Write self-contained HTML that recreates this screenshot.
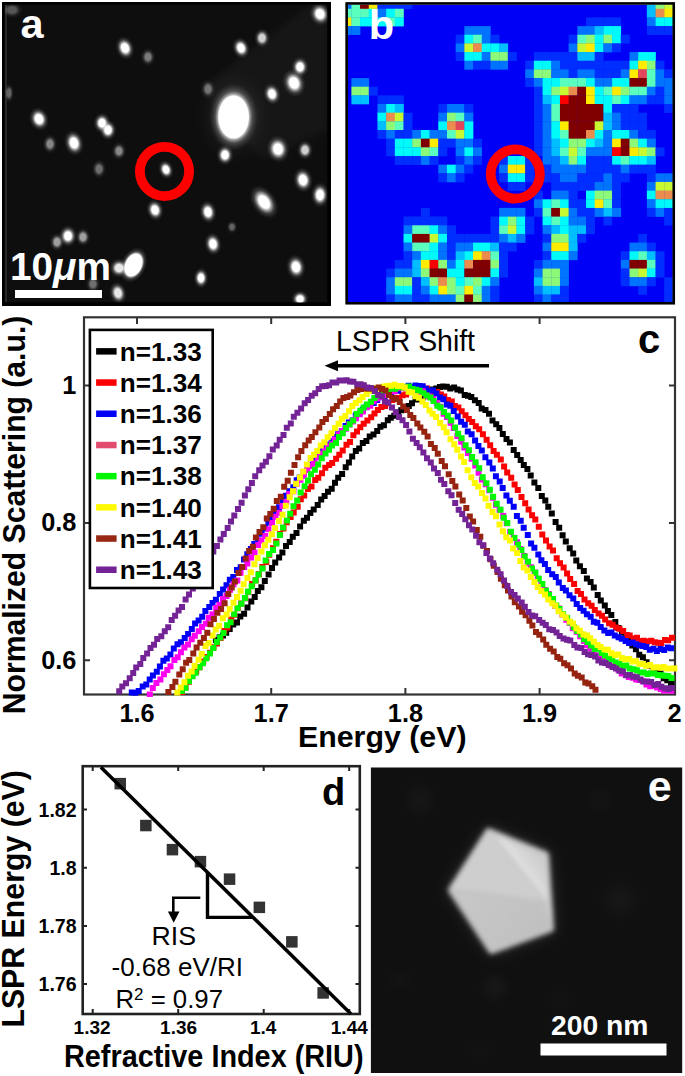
<!DOCTYPE html><html><head><meta charset="utf-8"><style>html,body{margin:0;padding:0;background:#fff;}body{width:685px;height:1076px;overflow:hidden;}svg{display:block;}text{font-family:"Liberation Sans",sans-serif;}</style></head><body>
<svg width="685" height="1076" viewBox="0 0 685 1076">
<defs>
<filter id="b1" x="-100%" y="-100%" width="300%" height="300%"><feGaussianBlur stdDeviation="1.3"/></filter>
<filter id="b4" x="-200%" y="-200%" width="500%" height="500%"><feGaussianBlur stdDeviation="4"/></filter>
<filter id="b8" x="-200%" y="-200%" width="500%" height="500%"><feGaussianBlur stdDeviation="8"/></filter>
<filter id="bp" x="-50%" y="-50%" width="200%" height="200%"><feGaussianBlur stdDeviation="2.6"/></filter>
<filter id="bs" x="-10%" y="-10%" width="120%" height="120%"><feGaussianBlur stdDeviation="0.45"/></filter>
<clipPath id="ca"><rect x="4.5" y="4.5" width="323" height="298"/></clipPath>
<clipPath id="cb"><rect x="347.9" y="4.7" width="324.9" height="297.4"/></clipPath>
<clipPath id="cc"><rect x="85" y="318" width="593" height="379"/></clipPath>
<clipPath id="ce"><rect x="370.9" y="767.5" width="311.3" height="305.5"/></clipPath>
<radialGradient id="sg"><stop offset="0" stop-color="#fff"/><stop offset="0.36" stop-color="#fff"/><stop offset="0.5" stop-color="#fff" stop-opacity="0.6"/><stop offset="0.68" stop-color="#fff" stop-opacity="0.2"/><stop offset="0.85" stop-color="#fff" stop-opacity="0.06"/><stop offset="1" stop-color="#fff" stop-opacity="0"/></radialGradient>
<radialGradient id="sg2"><stop offset="0" stop-color="#fff"/><stop offset="0.62" stop-color="#fff"/><stop offset="0.68" stop-color="#fff" stop-opacity="0.55"/><stop offset="0.78" stop-color="#fff" stop-opacity="0.18"/><stop offset="0.9" stop-color="#fff" stop-opacity="0.06"/><stop offset="1" stop-color="#fff" stop-opacity="0"/></radialGradient>
</defs>
<rect x="2" y="2" width="329" height="304" fill="#000"/>
<g clip-path="url(#ca)">
<rect x="4.5" y="4.5" width="323" height="298" fill="#0e0e0e"/>
<polygon points="200,89 311,4 329,4 329,130 262,160" fill="#fff" opacity="0.035" filter="url(#b4)"/>
<ellipse cx="234" cy="117" rx="40" ry="50" fill="url(#sg)" opacity="0.12"/>
<line x1="6" y1="5" x2="6" y2="302" stroke="#555" stroke-width="0.8"/>
<ellipse cx="125" cy="48" rx="9.28" ry="12.18" fill="url(#sg)" opacity="1.00" transform="rotate(-20 125 48)"/>
<ellipse cx="148" cy="57" rx="7.54" ry="9.28" fill="url(#sg)" opacity="0.45" />
<ellipse cx="9" cy="93" rx="5.22" ry="10.15" fill="url(#sg)" opacity="0.35" />
<ellipse cx="12" cy="10" rx="11.6" ry="8.7" fill="url(#sg)" opacity="0.30" />
<ellipse cx="39" cy="119" rx="9.86" ry="12.18" fill="url(#sg)" opacity="1.00" transform="rotate(-20 39 119)"/>
<ellipse cx="102" cy="123" rx="8.7" ry="10.44" fill="url(#sg)" opacity="1.00" />
<ellipse cx="108" cy="130" rx="8.7" ry="10.44" fill="url(#sg)" opacity="1.00" />
<ellipse cx="50" cy="144" rx="7.54" ry="9.86" fill="url(#sg)" opacity="0.50" />
<ellipse cx="74" cy="143" rx="9.86" ry="13.34" fill="url(#sg)" opacity="1.00" transform="rotate(-15 74 143)"/>
<ellipse cx="119" cy="151" rx="7.54" ry="9.28" fill="url(#sg)" opacity="0.50" />
<ellipse cx="320" cy="14" rx="10.44" ry="12.18" fill="url(#sg)" opacity="1.00" transform="rotate(-20 320 14)"/>
<ellipse cx="262" cy="38" rx="8.12" ry="9.86" fill="url(#sg)" opacity="0.80" />
<ellipse cx="241" cy="48" rx="8.7" ry="11.02" fill="url(#sg)" opacity="1.00" transform="rotate(-20 241 48)"/>
<ellipse cx="300" cy="67" rx="8.7" ry="10.44" fill="url(#sg)" opacity="1.00" />
<ellipse cx="294" cy="83" rx="11.6" ry="14.5" fill="url(#sg)" opacity="1.00" transform="rotate(-20 294 83)"/>
<ellipse cx="272" cy="94" rx="8.7" ry="11.02" fill="url(#sg)" opacity="1.00" transform="rotate(-15 272 94)"/>
<ellipse cx="208" cy="89" rx="7.54" ry="9.86" fill="url(#sg)" opacity="0.40" />
<ellipse cx="233.6" cy="117" rx="23.87" ry="33.6" fill="url(#sg2)" />
<ellipse cx="278" cy="149" rx="11.6" ry="13.92" fill="url(#sg)" opacity="1.00" transform="rotate(-10 278 149)"/>
<ellipse cx="305" cy="150" rx="8.12" ry="9.86" fill="url(#sg)" opacity="0.80" />
<ellipse cx="225" cy="155" rx="8.7" ry="10.44" fill="url(#sg)" opacity="1.00" />
<ellipse cx="99" cy="169" rx="7.54" ry="9.86" fill="url(#sg)" opacity="0.40" />
<ellipse cx="166" cy="169.6" rx="7.54" ry="9.86" fill="url(#sg)" opacity="1.00" transform="rotate(-20 166 169.6)"/>
<ellipse cx="155" cy="210" rx="8.7" ry="11.02" fill="url(#sg)" opacity="1.00" transform="rotate(-15 155 210)"/>
<ellipse cx="68" cy="236" rx="9.28" ry="11.02" fill="url(#sg)" opacity="1.00" />
<ellipse cx="57" cy="242" rx="7.54" ry="9.28" fill="url(#sg)" opacity="0.60" />
<ellipse cx="83" cy="237" rx="7.54" ry="9.28" fill="url(#sg)" opacity="0.60" />
<ellipse cx="133.5" cy="265" rx="12.71" ry="18.75" fill="url(#sg2)" transform="rotate(25 133.5 265)"/>
<ellipse cx="119" cy="268" rx="9.86" ry="9.86" fill="url(#sg)" opacity="0.90" />
<ellipse cx="118" cy="293" rx="8.7" ry="11.6" fill="url(#sg)" opacity="0.90" transform="rotate(-15 118 293)"/>
<ellipse cx="93" cy="284" rx="7.54" ry="9.28" fill="url(#sg)" opacity="0.40" />
<ellipse cx="303" cy="180" rx="9.86" ry="12.76" fill="url(#sg)" opacity="1.00" transform="rotate(-10 303 180)"/>
<ellipse cx="320" cy="195" rx="9.28" ry="12.76" fill="url(#sg)" opacity="1.00" />
<ellipse cx="264" cy="202" rx="12.18" ry="18.85" fill="url(#sg)" opacity="1.00" transform="rotate(-35 264 202)"/>
<ellipse cx="208" cy="212" rx="8.7" ry="11.6" fill="url(#sg)" opacity="1.00" transform="rotate(-10 208 212)"/>
<ellipse cx="232" cy="227" rx="5.8" ry="6.96" fill="url(#sg)" opacity="0.35" />
<ellipse cx="213" cy="244" rx="8.7" ry="11.6" fill="url(#sg)" opacity="1.00" transform="rotate(-10 213 244)"/>
<ellipse cx="296" cy="267" rx="9.86" ry="12.76" fill="url(#sg)" opacity="1.00" transform="rotate(-10 296 267)"/>
<ellipse cx="201" cy="278" rx="7.54" ry="10.44" fill="url(#sg)" opacity="1.00" />
<ellipse cx="300" cy="299" rx="8.7" ry="8.7" fill="url(#sg)" opacity="1.00" />
</g>
<circle cx="164.5" cy="171.5" r="24.6" fill="none" stroke="#f00" stroke-width="9.8"/>
<text x="20.5" y="37.8" font-size="41.5" font-weight="bold" fill="#fff">a</text>
<text x="10" y="280" font-size="38" fill="#fff" font-weight="bold" textLength="101" lengthAdjust="spacingAndGlyphs">10<tspan font-style="italic">μ</tspan>m</text>
<rect x="15" y="290" width="87" height="8" fill="#fff"/>
<g clip-path="url(#cb)"><g filter="url(#bs)">
<rect x="345" y="2" width="330" height="303" fill="rgb(0,0,246)"/>
<rect x="342.70" y="0.10" width="8.99" height="8.96" fill="rgb(0,115,255)"/>
<rect x="351.39" y="0.10" width="8.99" height="8.96" fill="rgb(90,255,190)"/>
<rect x="360.08" y="0.10" width="8.99" height="8.96" fill="rgb(128,0,0)"/>
<rect x="368.77" y="0.10" width="8.99" height="8.96" fill="rgb(255,235,0)"/>
<rect x="377.46" y="0.10" width="8.99" height="8.96" fill="rgb(0,45,255)"/>
<rect x="386.15" y="0.10" width="8.99" height="8.96" fill="rgb(0,45,255)"/>
<rect x="394.84" y="0.10" width="8.99" height="8.96" fill="rgb(0,45,255)"/>
<rect x="403.53" y="0.10" width="8.99" height="8.96" fill="rgb(0,45,255)"/>
<rect x="646.85" y="0.10" width="8.99" height="8.96" fill="rgb(0,190,255)"/>
<rect x="655.54" y="0.10" width="8.99" height="8.96" fill="rgb(140,250,120)"/>
<rect x="664.23" y="0.10" width="8.99" height="8.96" fill="rgb(200,250,50)"/>
<rect x="342.70" y="8.76" width="8.99" height="8.96" fill="rgb(90,255,190)"/>
<rect x="351.39" y="8.76" width="8.99" height="8.96" fill="rgb(90,255,190)"/>
<rect x="360.08" y="8.76" width="8.99" height="8.96" fill="rgb(90,255,190)"/>
<rect x="368.77" y="8.76" width="8.99" height="8.96" fill="rgb(0,250,250)"/>
<rect x="377.46" y="8.76" width="8.99" height="8.96" fill="rgb(0,115,255)"/>
<rect x="386.15" y="8.76" width="8.99" height="8.96" fill="rgb(0,250,250)"/>
<rect x="394.84" y="8.76" width="8.99" height="8.96" fill="rgb(90,255,190)"/>
<rect x="646.85" y="8.76" width="8.99" height="8.96" fill="rgb(0,190,255)"/>
<rect x="655.54" y="8.76" width="8.99" height="8.96" fill="rgb(235,140,80)"/>
<rect x="664.23" y="8.76" width="8.99" height="8.96" fill="rgb(255,235,0)"/>
<rect x="342.70" y="17.42" width="8.99" height="8.96" fill="rgb(255,235,0)"/>
<rect x="351.39" y="17.42" width="8.99" height="8.96" fill="rgb(90,255,190)"/>
<rect x="360.08" y="17.42" width="8.99" height="8.96" fill="rgb(0,250,250)"/>
<rect x="368.77" y="17.42" width="8.99" height="8.96" fill="rgb(0,250,250)"/>
<rect x="377.46" y="17.42" width="8.99" height="8.96" fill="rgb(0,250,250)"/>
<rect x="386.15" y="17.42" width="8.99" height="8.96" fill="rgb(90,255,190)"/>
<rect x="394.84" y="17.42" width="8.99" height="8.96" fill="rgb(0,250,250)"/>
<rect x="586.02" y="17.42" width="8.99" height="8.96" fill="rgb(0,45,255)"/>
<rect x="594.71" y="17.42" width="8.99" height="8.96" fill="rgb(0,45,255)"/>
<rect x="603.40" y="17.42" width="8.99" height="8.96" fill="rgb(0,45,255)"/>
<rect x="612.09" y="17.42" width="8.99" height="8.96" fill="rgb(0,45,255)"/>
<rect x="646.85" y="17.42" width="8.99" height="8.96" fill="rgb(0,115,255)"/>
<rect x="655.54" y="17.42" width="8.99" height="8.96" fill="rgb(0,250,250)"/>
<rect x="664.23" y="17.42" width="8.99" height="8.96" fill="rgb(0,250,250)"/>
<rect x="342.70" y="26.08" width="8.99" height="8.96" fill="rgb(0,115,255)"/>
<rect x="351.39" y="26.08" width="8.99" height="8.96" fill="rgb(0,115,255)"/>
<rect x="464.36" y="26.08" width="8.99" height="8.96" fill="rgb(0,115,255)"/>
<rect x="473.05" y="26.08" width="8.99" height="8.96" fill="rgb(0,115,255)"/>
<rect x="481.74" y="26.08" width="8.99" height="8.96" fill="rgb(0,115,255)"/>
<rect x="577.33" y="26.08" width="8.99" height="8.96" fill="rgb(0,115,255)"/>
<rect x="586.02" y="26.08" width="8.99" height="8.96" fill="rgb(0,115,255)"/>
<rect x="594.71" y="26.08" width="8.99" height="8.96" fill="rgb(0,190,255)"/>
<rect x="603.40" y="26.08" width="8.99" height="8.96" fill="rgb(0,250,250)"/>
<rect x="612.09" y="26.08" width="8.99" height="8.96" fill="rgb(0,250,250)"/>
<rect x="646.85" y="26.08" width="8.99" height="8.96" fill="rgb(0,45,255)"/>
<rect x="655.54" y="26.08" width="8.99" height="8.96" fill="rgb(0,45,255)"/>
<rect x="664.23" y="26.08" width="8.99" height="8.96" fill="rgb(0,45,255)"/>
<rect x="455.67" y="34.74" width="8.99" height="8.96" fill="rgb(0,45,255)"/>
<rect x="464.36" y="34.74" width="8.99" height="8.96" fill="rgb(0,250,250)"/>
<rect x="473.05" y="34.74" width="8.99" height="8.96" fill="rgb(90,255,190)"/>
<rect x="481.74" y="34.74" width="8.99" height="8.96" fill="rgb(0,115,255)"/>
<rect x="490.43" y="34.74" width="8.99" height="8.96" fill="rgb(0,45,255)"/>
<rect x="568.64" y="34.74" width="8.99" height="8.96" fill="rgb(0,45,255)"/>
<rect x="577.33" y="34.74" width="8.99" height="8.96" fill="rgb(90,255,190)"/>
<rect x="586.02" y="34.74" width="8.99" height="8.96" fill="rgb(140,250,120)"/>
<rect x="594.71" y="34.74" width="8.99" height="8.96" fill="rgb(0,250,250)"/>
<rect x="603.40" y="34.74" width="8.99" height="8.96" fill="rgb(140,250,120)"/>
<rect x="612.09" y="34.74" width="8.99" height="8.96" fill="rgb(0,250,250)"/>
<rect x="620.78" y="34.74" width="8.99" height="8.96" fill="rgb(0,45,255)"/>
<rect x="455.67" y="43.40" width="8.99" height="8.96" fill="rgb(0,115,255)"/>
<rect x="464.36" y="43.40" width="8.99" height="8.96" fill="rgb(200,250,50)"/>
<rect x="473.05" y="43.40" width="8.99" height="8.96" fill="rgb(235,140,80)"/>
<rect x="481.74" y="43.40" width="8.99" height="8.96" fill="rgb(0,250,250)"/>
<rect x="490.43" y="43.40" width="8.99" height="8.96" fill="rgb(0,250,250)"/>
<rect x="499.12" y="43.40" width="8.99" height="8.96" fill="rgb(0,190,255)"/>
<rect x="568.64" y="43.40" width="8.99" height="8.96" fill="rgb(0,115,255)"/>
<rect x="577.33" y="43.40" width="8.99" height="8.96" fill="rgb(200,250,50)"/>
<rect x="586.02" y="43.40" width="8.99" height="8.96" fill="rgb(255,235,0)"/>
<rect x="594.71" y="43.40" width="8.99" height="8.96" fill="rgb(0,250,250)"/>
<rect x="603.40" y="43.40" width="8.99" height="8.96" fill="rgb(0,115,255)"/>
<rect x="612.09" y="43.40" width="8.99" height="8.96" fill="rgb(0,45,255)"/>
<rect x="455.67" y="52.06" width="8.99" height="8.96" fill="rgb(0,45,255)"/>
<rect x="464.36" y="52.06" width="8.99" height="8.96" fill="rgb(0,250,250)"/>
<rect x="473.05" y="52.06" width="8.99" height="8.96" fill="rgb(0,250,250)"/>
<rect x="481.74" y="52.06" width="8.99" height="8.96" fill="rgb(0,115,255)"/>
<rect x="490.43" y="52.06" width="8.99" height="8.96" fill="rgb(140,250,120)"/>
<rect x="499.12" y="52.06" width="8.99" height="8.96" fill="rgb(140,250,120)"/>
<rect x="507.81" y="52.06" width="8.99" height="8.96" fill="rgb(0,45,255)"/>
<rect x="533.88" y="52.06" width="8.99" height="8.96" fill="rgb(0,45,255)"/>
<rect x="542.57" y="52.06" width="8.99" height="8.96" fill="rgb(0,45,255)"/>
<rect x="551.26" y="52.06" width="8.99" height="8.96" fill="rgb(0,45,255)"/>
<rect x="559.95" y="52.06" width="8.99" height="8.96" fill="rgb(0,45,255)"/>
<rect x="568.64" y="52.06" width="8.99" height="8.96" fill="rgb(0,45,255)"/>
<rect x="577.33" y="52.06" width="8.99" height="8.96" fill="rgb(0,190,255)"/>
<rect x="586.02" y="52.06" width="8.99" height="8.96" fill="rgb(0,190,255)"/>
<rect x="594.71" y="52.06" width="8.99" height="8.96" fill="rgb(0,45,255)"/>
<rect x="629.47" y="52.06" width="8.99" height="8.96" fill="rgb(0,115,255)"/>
<rect x="638.16" y="52.06" width="8.99" height="8.96" fill="rgb(0,250,250)"/>
<rect x="646.85" y="52.06" width="8.99" height="8.96" fill="rgb(0,250,250)"/>
<rect x="464.36" y="60.72" width="8.99" height="8.96" fill="rgb(0,115,255)"/>
<rect x="473.05" y="60.72" width="8.99" height="8.96" fill="rgb(0,45,255)"/>
<rect x="481.74" y="60.72" width="8.99" height="8.96" fill="rgb(0,45,255)"/>
<rect x="490.43" y="60.72" width="8.99" height="8.96" fill="rgb(0,115,255)"/>
<rect x="499.12" y="60.72" width="8.99" height="8.96" fill="rgb(0,115,255)"/>
<rect x="525.19" y="60.72" width="8.99" height="8.96" fill="rgb(0,45,255)"/>
<rect x="533.88" y="60.72" width="8.99" height="8.96" fill="rgb(0,250,250)"/>
<rect x="542.57" y="60.72" width="8.99" height="8.96" fill="rgb(0,250,250)"/>
<rect x="551.26" y="60.72" width="8.99" height="8.96" fill="rgb(0,115,255)"/>
<rect x="559.95" y="60.72" width="8.99" height="8.96" fill="rgb(0,45,255)"/>
<rect x="568.64" y="60.72" width="8.99" height="8.96" fill="rgb(0,45,255)"/>
<rect x="577.33" y="60.72" width="8.99" height="8.96" fill="rgb(0,45,255)"/>
<rect x="586.02" y="60.72" width="8.99" height="8.96" fill="rgb(0,45,255)"/>
<rect x="594.71" y="60.72" width="8.99" height="8.96" fill="rgb(0,45,255)"/>
<rect x="603.40" y="60.72" width="8.99" height="8.96" fill="rgb(0,45,255)"/>
<rect x="612.09" y="60.72" width="8.99" height="8.96" fill="rgb(0,45,255)"/>
<rect x="620.78" y="60.72" width="8.99" height="8.96" fill="rgb(0,45,255)"/>
<rect x="629.47" y="60.72" width="8.99" height="8.96" fill="rgb(0,250,250)"/>
<rect x="638.16" y="60.72" width="8.99" height="8.96" fill="rgb(255,235,0)"/>
<rect x="646.85" y="60.72" width="8.99" height="8.96" fill="rgb(140,250,120)"/>
<rect x="655.54" y="60.72" width="8.99" height="8.96" fill="rgb(0,45,255)"/>
<rect x="525.19" y="69.38" width="8.99" height="8.96" fill="rgb(0,115,255)"/>
<rect x="533.88" y="69.38" width="8.99" height="8.96" fill="rgb(140,250,120)"/>
<rect x="542.57" y="69.38" width="8.99" height="8.96" fill="rgb(140,250,120)"/>
<rect x="551.26" y="69.38" width="8.99" height="8.96" fill="rgb(0,115,255)"/>
<rect x="559.95" y="69.38" width="8.99" height="8.96" fill="rgb(0,115,255)"/>
<rect x="568.64" y="69.38" width="8.99" height="8.96" fill="rgb(0,45,255)"/>
<rect x="577.33" y="69.38" width="8.99" height="8.96" fill="rgb(0,115,255)"/>
<rect x="586.02" y="69.38" width="8.99" height="8.96" fill="rgb(0,115,255)"/>
<rect x="594.71" y="69.38" width="8.99" height="8.96" fill="rgb(0,45,255)"/>
<rect x="603.40" y="69.38" width="8.99" height="8.96" fill="rgb(0,45,255)"/>
<rect x="612.09" y="69.38" width="8.99" height="8.96" fill="rgb(0,45,255)"/>
<rect x="620.78" y="69.38" width="8.99" height="8.96" fill="rgb(0,115,255)"/>
<rect x="629.47" y="69.38" width="8.99" height="8.96" fill="rgb(255,235,0)"/>
<rect x="638.16" y="69.38" width="8.99" height="8.96" fill="rgb(225,70,90)"/>
<rect x="646.85" y="69.38" width="8.99" height="8.96" fill="rgb(90,255,190)"/>
<rect x="655.54" y="69.38" width="8.99" height="8.96" fill="rgb(0,115,255)"/>
<rect x="664.23" y="69.38" width="8.99" height="8.96" fill="rgb(0,45,255)"/>
<rect x="351.39" y="78.04" width="8.99" height="8.96" fill="rgb(0,115,255)"/>
<rect x="360.08" y="78.04" width="8.99" height="8.96" fill="rgb(0,115,255)"/>
<rect x="525.19" y="78.04" width="8.99" height="8.96" fill="rgb(0,45,255)"/>
<rect x="533.88" y="78.04" width="8.99" height="8.96" fill="rgb(0,115,255)"/>
<rect x="542.57" y="78.04" width="8.99" height="8.96" fill="rgb(0,250,250)"/>
<rect x="551.26" y="78.04" width="8.99" height="8.96" fill="rgb(0,250,250)"/>
<rect x="559.95" y="78.04" width="8.99" height="8.96" fill="rgb(90,255,190)"/>
<rect x="568.64" y="78.04" width="8.99" height="8.96" fill="rgb(90,255,190)"/>
<rect x="577.33" y="78.04" width="8.99" height="8.96" fill="rgb(90,255,190)"/>
<rect x="586.02" y="78.04" width="8.99" height="8.96" fill="rgb(0,250,250)"/>
<rect x="594.71" y="78.04" width="8.99" height="8.96" fill="rgb(0,115,255)"/>
<rect x="603.40" y="78.04" width="8.99" height="8.96" fill="rgb(0,115,255)"/>
<rect x="612.09" y="78.04" width="8.99" height="8.96" fill="rgb(0,250,250)"/>
<rect x="620.78" y="78.04" width="8.99" height="8.96" fill="rgb(0,250,250)"/>
<rect x="629.47" y="78.04" width="8.99" height="8.96" fill="rgb(128,0,0)"/>
<rect x="638.16" y="78.04" width="8.99" height="8.96" fill="rgb(128,0,0)"/>
<rect x="646.85" y="78.04" width="8.99" height="8.96" fill="rgb(90,255,190)"/>
<rect x="655.54" y="78.04" width="8.99" height="8.96" fill="rgb(0,115,255)"/>
<rect x="664.23" y="78.04" width="8.99" height="8.96" fill="rgb(0,115,255)"/>
<rect x="351.39" y="86.70" width="8.99" height="8.96" fill="rgb(140,250,120)"/>
<rect x="360.08" y="86.70" width="8.99" height="8.96" fill="rgb(140,250,120)"/>
<rect x="368.77" y="86.70" width="8.99" height="8.96" fill="rgb(0,45,255)"/>
<rect x="533.88" y="86.70" width="8.99" height="8.96" fill="rgb(0,45,255)"/>
<rect x="542.57" y="86.70" width="8.99" height="8.96" fill="rgb(0,250,250)"/>
<rect x="551.26" y="86.70" width="8.99" height="8.96" fill="rgb(140,250,120)"/>
<rect x="559.95" y="86.70" width="8.99" height="8.96" fill="rgb(200,250,50)"/>
<rect x="568.64" y="86.70" width="8.99" height="8.96" fill="rgb(235,140,80)"/>
<rect x="577.33" y="86.70" width="8.99" height="8.96" fill="rgb(128,0,0)"/>
<rect x="586.02" y="86.70" width="8.99" height="8.96" fill="rgb(255,235,0)"/>
<rect x="594.71" y="86.70" width="8.99" height="8.96" fill="rgb(0,250,250)"/>
<rect x="603.40" y="86.70" width="8.99" height="8.96" fill="rgb(90,255,190)"/>
<rect x="612.09" y="86.70" width="8.99" height="8.96" fill="rgb(255,235,0)"/>
<rect x="620.78" y="86.70" width="8.99" height="8.96" fill="rgb(140,250,120)"/>
<rect x="629.47" y="86.70" width="8.99" height="8.96" fill="rgb(90,255,190)"/>
<rect x="638.16" y="86.70" width="8.99" height="8.96" fill="rgb(90,255,190)"/>
<rect x="646.85" y="86.70" width="8.99" height="8.96" fill="rgb(0,115,255)"/>
<rect x="655.54" y="86.70" width="8.99" height="8.96" fill="rgb(0,45,255)"/>
<rect x="664.23" y="86.70" width="8.99" height="8.96" fill="rgb(0,115,255)"/>
<rect x="351.39" y="95.36" width="8.99" height="8.96" fill="rgb(0,190,255)"/>
<rect x="360.08" y="95.36" width="8.99" height="8.96" fill="rgb(0,190,255)"/>
<rect x="377.46" y="95.36" width="8.99" height="8.96" fill="rgb(0,45,255)"/>
<rect x="386.15" y="95.36" width="8.99" height="8.96" fill="rgb(0,45,255)"/>
<rect x="394.84" y="95.36" width="8.99" height="8.96" fill="rgb(0,45,255)"/>
<rect x="533.88" y="95.36" width="8.99" height="8.96" fill="rgb(0,45,255)"/>
<rect x="542.57" y="95.36" width="8.99" height="8.96" fill="rgb(0,190,255)"/>
<rect x="551.26" y="95.36" width="8.99" height="8.96" fill="rgb(0,250,250)"/>
<rect x="559.95" y="95.36" width="8.99" height="8.96" fill="rgb(250,0,0)"/>
<rect x="568.64" y="95.36" width="8.99" height="8.96" fill="rgb(128,0,0)"/>
<rect x="577.33" y="95.36" width="8.99" height="8.96" fill="rgb(128,0,0)"/>
<rect x="586.02" y="95.36" width="8.99" height="8.96" fill="rgb(255,235,0)"/>
<rect x="594.71" y="95.36" width="8.99" height="8.96" fill="rgb(0,250,250)"/>
<rect x="603.40" y="95.36" width="8.99" height="8.96" fill="rgb(0,250,250)"/>
<rect x="612.09" y="95.36" width="8.99" height="8.96" fill="rgb(90,255,190)"/>
<rect x="620.78" y="95.36" width="8.99" height="8.96" fill="rgb(0,250,250)"/>
<rect x="629.47" y="95.36" width="8.99" height="8.96" fill="rgb(0,115,255)"/>
<rect x="638.16" y="95.36" width="8.99" height="8.96" fill="rgb(0,115,255)"/>
<rect x="646.85" y="95.36" width="8.99" height="8.96" fill="rgb(0,45,255)"/>
<rect x="655.54" y="95.36" width="8.99" height="8.96" fill="rgb(0,45,255)"/>
<rect x="664.23" y="95.36" width="8.99" height="8.96" fill="rgb(0,115,255)"/>
<rect x="377.46" y="104.02" width="8.99" height="8.96" fill="rgb(0,115,255)"/>
<rect x="386.15" y="104.02" width="8.99" height="8.96" fill="rgb(0,250,250)"/>
<rect x="394.84" y="104.02" width="8.99" height="8.96" fill="rgb(0,190,255)"/>
<rect x="438.29" y="104.02" width="8.99" height="8.96" fill="rgb(0,45,255)"/>
<rect x="446.98" y="104.02" width="8.99" height="8.96" fill="rgb(0,115,255)"/>
<rect x="455.67" y="104.02" width="8.99" height="8.96" fill="rgb(0,115,255)"/>
<rect x="464.36" y="104.02" width="8.99" height="8.96" fill="rgb(0,45,255)"/>
<rect x="533.88" y="104.02" width="8.99" height="8.96" fill="rgb(0,45,255)"/>
<rect x="542.57" y="104.02" width="8.99" height="8.96" fill="rgb(0,115,255)"/>
<rect x="551.26" y="104.02" width="8.99" height="8.96" fill="rgb(90,255,190)"/>
<rect x="559.95" y="104.02" width="8.99" height="8.96" fill="rgb(128,0,0)"/>
<rect x="568.64" y="104.02" width="8.99" height="8.96" fill="rgb(128,0,0)"/>
<rect x="577.33" y="104.02" width="8.99" height="8.96" fill="rgb(128,0,0)"/>
<rect x="586.02" y="104.02" width="8.99" height="8.96" fill="rgb(128,0,0)"/>
<rect x="594.71" y="104.02" width="8.99" height="8.96" fill="rgb(128,0,0)"/>
<rect x="603.40" y="104.02" width="8.99" height="8.96" fill="rgb(0,250,250)"/>
<rect x="612.09" y="104.02" width="8.99" height="8.96" fill="rgb(0,45,255)"/>
<rect x="620.78" y="104.02" width="8.99" height="8.96" fill="rgb(0,45,255)"/>
<rect x="629.47" y="104.02" width="8.99" height="8.96" fill="rgb(0,45,255)"/>
<rect x="664.23" y="104.02" width="8.99" height="8.96" fill="rgb(0,45,255)"/>
<rect x="377.46" y="112.68" width="8.99" height="8.96" fill="rgb(0,250,250)"/>
<rect x="386.15" y="112.68" width="8.99" height="8.96" fill="rgb(235,140,80)"/>
<rect x="394.84" y="112.68" width="8.99" height="8.96" fill="rgb(200,250,50)"/>
<rect x="403.53" y="112.68" width="8.99" height="8.96" fill="rgb(0,45,255)"/>
<rect x="438.29" y="112.68" width="8.99" height="8.96" fill="rgb(0,115,255)"/>
<rect x="446.98" y="112.68" width="8.99" height="8.96" fill="rgb(140,250,120)"/>
<rect x="455.67" y="112.68" width="8.99" height="8.96" fill="rgb(90,255,190)"/>
<rect x="464.36" y="112.68" width="8.99" height="8.96" fill="rgb(0,115,255)"/>
<rect x="533.88" y="112.68" width="8.99" height="8.96" fill="rgb(0,45,255)"/>
<rect x="542.57" y="112.68" width="8.99" height="8.96" fill="rgb(0,115,255)"/>
<rect x="551.26" y="112.68" width="8.99" height="8.96" fill="rgb(90,255,190)"/>
<rect x="559.95" y="112.68" width="8.99" height="8.96" fill="rgb(128,0,0)"/>
<rect x="568.64" y="112.68" width="8.99" height="8.96" fill="rgb(128,0,0)"/>
<rect x="577.33" y="112.68" width="8.99" height="8.96" fill="rgb(128,0,0)"/>
<rect x="586.02" y="112.68" width="8.99" height="8.96" fill="rgb(128,0,0)"/>
<rect x="594.71" y="112.68" width="8.99" height="8.96" fill="rgb(128,0,0)"/>
<rect x="603.40" y="112.68" width="8.99" height="8.96" fill="rgb(0,190,255)"/>
<rect x="612.09" y="112.68" width="8.99" height="8.96" fill="rgb(0,115,255)"/>
<rect x="620.78" y="112.68" width="8.99" height="8.96" fill="rgb(0,45,255)"/>
<rect x="629.47" y="112.68" width="8.99" height="8.96" fill="rgb(0,45,255)"/>
<rect x="638.16" y="112.68" width="8.99" height="8.96" fill="rgb(0,45,255)"/>
<rect x="377.46" y="121.34" width="8.99" height="8.96" fill="rgb(0,190,255)"/>
<rect x="386.15" y="121.34" width="8.99" height="8.96" fill="rgb(140,250,120)"/>
<rect x="394.84" y="121.34" width="8.99" height="8.96" fill="rgb(90,255,190)"/>
<rect x="403.53" y="121.34" width="8.99" height="8.96" fill="rgb(0,45,255)"/>
<rect x="438.29" y="121.34" width="8.99" height="8.96" fill="rgb(0,250,250)"/>
<rect x="446.98" y="121.34" width="8.99" height="8.96" fill="rgb(235,140,80)"/>
<rect x="455.67" y="121.34" width="8.99" height="8.96" fill="rgb(225,70,90)"/>
<rect x="464.36" y="121.34" width="8.99" height="8.96" fill="rgb(0,250,250)"/>
<rect x="533.88" y="121.34" width="8.99" height="8.96" fill="rgb(0,45,255)"/>
<rect x="542.57" y="121.34" width="8.99" height="8.96" fill="rgb(0,115,255)"/>
<rect x="551.26" y="121.34" width="8.99" height="8.96" fill="rgb(0,250,250)"/>
<rect x="559.95" y="121.34" width="8.99" height="8.96" fill="rgb(255,235,0)"/>
<rect x="568.64" y="121.34" width="8.99" height="8.96" fill="rgb(128,0,0)"/>
<rect x="577.33" y="121.34" width="8.99" height="8.96" fill="rgb(128,0,0)"/>
<rect x="586.02" y="121.34" width="8.99" height="8.96" fill="rgb(128,0,0)"/>
<rect x="594.71" y="121.34" width="8.99" height="8.96" fill="rgb(200,250,50)"/>
<rect x="603.40" y="121.34" width="8.99" height="8.96" fill="rgb(0,190,255)"/>
<rect x="612.09" y="121.34" width="8.99" height="8.96" fill="rgb(0,115,255)"/>
<rect x="620.78" y="121.34" width="8.99" height="8.96" fill="rgb(0,45,255)"/>
<rect x="629.47" y="121.34" width="8.99" height="8.96" fill="rgb(0,45,255)"/>
<rect x="638.16" y="121.34" width="8.99" height="8.96" fill="rgb(0,45,255)"/>
<rect x="377.46" y="130.00" width="8.99" height="8.96" fill="rgb(0,45,255)"/>
<rect x="386.15" y="130.00" width="8.99" height="8.96" fill="rgb(0,115,255)"/>
<rect x="394.84" y="130.00" width="8.99" height="8.96" fill="rgb(0,45,255)"/>
<rect x="403.53" y="130.00" width="8.99" height="8.96" fill="rgb(0,45,255)"/>
<rect x="412.22" y="130.00" width="8.99" height="8.96" fill="rgb(0,115,255)"/>
<rect x="420.91" y="130.00" width="8.99" height="8.96" fill="rgb(0,250,250)"/>
<rect x="429.60" y="130.00" width="8.99" height="8.96" fill="rgb(0,115,255)"/>
<rect x="438.29" y="130.00" width="8.99" height="8.96" fill="rgb(0,115,255)"/>
<rect x="446.98" y="130.00" width="8.99" height="8.96" fill="rgb(90,255,190)"/>
<rect x="455.67" y="130.00" width="8.99" height="8.96" fill="rgb(200,250,50)"/>
<rect x="464.36" y="130.00" width="8.99" height="8.96" fill="rgb(0,250,250)"/>
<rect x="533.88" y="130.00" width="8.99" height="8.96" fill="rgb(0,45,255)"/>
<rect x="542.57" y="130.00" width="8.99" height="8.96" fill="rgb(0,115,255)"/>
<rect x="551.26" y="130.00" width="8.99" height="8.96" fill="rgb(0,250,250)"/>
<rect x="559.95" y="130.00" width="8.99" height="8.96" fill="rgb(90,255,190)"/>
<rect x="568.64" y="130.00" width="8.99" height="8.96" fill="rgb(128,0,0)"/>
<rect x="577.33" y="130.00" width="8.99" height="8.96" fill="rgb(128,0,0)"/>
<rect x="586.02" y="130.00" width="8.99" height="8.96" fill="rgb(235,140,80)"/>
<rect x="594.71" y="130.00" width="8.99" height="8.96" fill="rgb(0,250,250)"/>
<rect x="603.40" y="130.00" width="8.99" height="8.96" fill="rgb(0,115,255)"/>
<rect x="612.09" y="130.00" width="8.99" height="8.96" fill="rgb(0,250,250)"/>
<rect x="620.78" y="130.00" width="8.99" height="8.96" fill="rgb(0,250,250)"/>
<rect x="629.47" y="130.00" width="8.99" height="8.96" fill="rgb(0,115,255)"/>
<rect x="638.16" y="130.00" width="8.99" height="8.96" fill="rgb(0,45,255)"/>
<rect x="646.85" y="130.00" width="8.99" height="8.96" fill="rgb(0,45,255)"/>
<rect x="386.15" y="138.66" width="8.99" height="8.96" fill="rgb(0,45,255)"/>
<rect x="394.84" y="138.66" width="8.99" height="8.96" fill="rgb(0,250,250)"/>
<rect x="403.53" y="138.66" width="8.99" height="8.96" fill="rgb(0,250,250)"/>
<rect x="412.22" y="138.66" width="8.99" height="8.96" fill="rgb(140,250,120)"/>
<rect x="420.91" y="138.66" width="8.99" height="8.96" fill="rgb(128,0,0)"/>
<rect x="429.60" y="138.66" width="8.99" height="8.96" fill="rgb(255,235,0)"/>
<rect x="438.29" y="138.66" width="8.99" height="8.96" fill="rgb(0,45,255)"/>
<rect x="446.98" y="138.66" width="8.99" height="8.96" fill="rgb(0,45,255)"/>
<rect x="455.67" y="138.66" width="8.99" height="8.96" fill="rgb(0,115,255)"/>
<rect x="464.36" y="138.66" width="8.99" height="8.96" fill="rgb(0,115,255)"/>
<rect x="473.05" y="138.66" width="8.99" height="8.96" fill="rgb(0,45,255)"/>
<rect x="533.88" y="138.66" width="8.99" height="8.96" fill="rgb(0,45,255)"/>
<rect x="542.57" y="138.66" width="8.99" height="8.96" fill="rgb(0,115,255)"/>
<rect x="551.26" y="138.66" width="8.99" height="8.96" fill="rgb(0,190,255)"/>
<rect x="559.95" y="138.66" width="8.99" height="8.96" fill="rgb(0,250,250)"/>
<rect x="568.64" y="138.66" width="8.99" height="8.96" fill="rgb(140,250,120)"/>
<rect x="577.33" y="138.66" width="8.99" height="8.96" fill="rgb(140,250,120)"/>
<rect x="586.02" y="138.66" width="8.99" height="8.96" fill="rgb(0,250,250)"/>
<rect x="594.71" y="138.66" width="8.99" height="8.96" fill="rgb(0,190,255)"/>
<rect x="603.40" y="138.66" width="8.99" height="8.96" fill="rgb(0,115,255)"/>
<rect x="612.09" y="138.66" width="8.99" height="8.96" fill="rgb(255,235,0)"/>
<rect x="620.78" y="138.66" width="8.99" height="8.96" fill="rgb(128,0,0)"/>
<rect x="629.47" y="138.66" width="8.99" height="8.96" fill="rgb(140,250,120)"/>
<rect x="638.16" y="138.66" width="8.99" height="8.96" fill="rgb(0,250,250)"/>
<rect x="646.85" y="138.66" width="8.99" height="8.96" fill="rgb(0,115,255)"/>
<rect x="386.15" y="147.32" width="8.99" height="8.96" fill="rgb(0,45,255)"/>
<rect x="394.84" y="147.32" width="8.99" height="8.96" fill="rgb(0,250,250)"/>
<rect x="403.53" y="147.32" width="8.99" height="8.96" fill="rgb(0,250,250)"/>
<rect x="412.22" y="147.32" width="8.99" height="8.96" fill="rgb(0,250,250)"/>
<rect x="420.91" y="147.32" width="8.99" height="8.96" fill="rgb(140,250,120)"/>
<rect x="429.60" y="147.32" width="8.99" height="8.96" fill="rgb(90,255,190)"/>
<rect x="438.29" y="147.32" width="8.99" height="8.96" fill="rgb(0,45,255)"/>
<rect x="455.67" y="147.32" width="8.99" height="8.96" fill="rgb(0,115,255)"/>
<rect x="464.36" y="147.32" width="8.99" height="8.96" fill="rgb(0,250,250)"/>
<rect x="473.05" y="147.32" width="8.99" height="8.96" fill="rgb(0,115,255)"/>
<rect x="533.88" y="147.32" width="8.99" height="8.96" fill="rgb(0,45,255)"/>
<rect x="542.57" y="147.32" width="8.99" height="8.96" fill="rgb(0,115,255)"/>
<rect x="551.26" y="147.32" width="8.99" height="8.96" fill="rgb(0,190,255)"/>
<rect x="559.95" y="147.32" width="8.99" height="8.96" fill="rgb(90,255,190)"/>
<rect x="568.64" y="147.32" width="8.99" height="8.96" fill="rgb(200,250,50)"/>
<rect x="577.33" y="147.32" width="8.99" height="8.96" fill="rgb(90,255,190)"/>
<rect x="586.02" y="147.32" width="8.99" height="8.96" fill="rgb(0,115,255)"/>
<rect x="594.71" y="147.32" width="8.99" height="8.96" fill="rgb(0,115,255)"/>
<rect x="603.40" y="147.32" width="8.99" height="8.96" fill="rgb(0,115,255)"/>
<rect x="612.09" y="147.32" width="8.99" height="8.96" fill="rgb(250,0,0)"/>
<rect x="620.78" y="147.32" width="8.99" height="8.96" fill="rgb(128,0,0)"/>
<rect x="629.47" y="147.32" width="8.99" height="8.96" fill="rgb(255,235,0)"/>
<rect x="638.16" y="147.32" width="8.99" height="8.96" fill="rgb(200,250,50)"/>
<rect x="646.85" y="147.32" width="8.99" height="8.96" fill="rgb(140,250,120)"/>
<rect x="655.54" y="147.32" width="8.99" height="8.96" fill="rgb(0,45,255)"/>
<rect x="394.84" y="155.98" width="8.99" height="8.96" fill="rgb(0,45,255)"/>
<rect x="403.53" y="155.98" width="8.99" height="8.96" fill="rgb(0,45,255)"/>
<rect x="412.22" y="155.98" width="8.99" height="8.96" fill="rgb(0,45,255)"/>
<rect x="420.91" y="155.98" width="8.99" height="8.96" fill="rgb(0,115,255)"/>
<rect x="429.60" y="155.98" width="8.99" height="8.96" fill="rgb(0,45,255)"/>
<rect x="455.67" y="155.98" width="8.99" height="8.96" fill="rgb(0,45,255)"/>
<rect x="464.36" y="155.98" width="8.99" height="8.96" fill="rgb(0,115,255)"/>
<rect x="473.05" y="155.98" width="8.99" height="8.96" fill="rgb(0,45,255)"/>
<rect x="499.12" y="155.98" width="8.99" height="8.96" fill="rgb(0,45,255)"/>
<rect x="507.81" y="155.98" width="8.99" height="8.96" fill="rgb(0,250,250)"/>
<rect x="516.50" y="155.98" width="8.99" height="8.96" fill="rgb(0,250,250)"/>
<rect x="525.19" y="155.98" width="8.99" height="8.96" fill="rgb(0,45,255)"/>
<rect x="542.57" y="155.98" width="8.99" height="8.96" fill="rgb(0,115,255)"/>
<rect x="551.26" y="155.98" width="8.99" height="8.96" fill="rgb(0,115,255)"/>
<rect x="559.95" y="155.98" width="8.99" height="8.96" fill="rgb(0,190,255)"/>
<rect x="568.64" y="155.98" width="8.99" height="8.96" fill="rgb(140,250,120)"/>
<rect x="577.33" y="155.98" width="8.99" height="8.96" fill="rgb(0,250,250)"/>
<rect x="586.02" y="155.98" width="8.99" height="8.96" fill="rgb(0,45,255)"/>
<rect x="594.71" y="155.98" width="8.99" height="8.96" fill="rgb(0,45,255)"/>
<rect x="603.40" y="155.98" width="8.99" height="8.96" fill="rgb(0,45,255)"/>
<rect x="612.09" y="155.98" width="8.99" height="8.96" fill="rgb(0,250,250)"/>
<rect x="620.78" y="155.98" width="8.99" height="8.96" fill="rgb(90,255,190)"/>
<rect x="629.47" y="155.98" width="8.99" height="8.96" fill="rgb(0,250,250)"/>
<rect x="638.16" y="155.98" width="8.99" height="8.96" fill="rgb(0,250,250)"/>
<rect x="646.85" y="155.98" width="8.99" height="8.96" fill="rgb(0,190,255)"/>
<rect x="438.29" y="164.64" width="8.99" height="8.96" fill="rgb(0,115,255)"/>
<rect x="446.98" y="164.64" width="8.99" height="8.96" fill="rgb(0,250,250)"/>
<rect x="455.67" y="164.64" width="8.99" height="8.96" fill="rgb(0,115,255)"/>
<rect x="464.36" y="164.64" width="8.99" height="8.96" fill="rgb(0,45,255)"/>
<rect x="499.12" y="164.64" width="8.99" height="8.96" fill="rgb(0,115,255)"/>
<rect x="507.81" y="164.64" width="8.99" height="8.96" fill="rgb(255,235,0)"/>
<rect x="516.50" y="164.64" width="8.99" height="8.96" fill="rgb(255,235,0)"/>
<rect x="525.19" y="164.64" width="8.99" height="8.96" fill="rgb(0,45,255)"/>
<rect x="542.57" y="164.64" width="8.99" height="8.96" fill="rgb(0,45,255)"/>
<rect x="551.26" y="164.64" width="8.99" height="8.96" fill="rgb(0,115,255)"/>
<rect x="559.95" y="164.64" width="8.99" height="8.96" fill="rgb(0,115,255)"/>
<rect x="568.64" y="164.64" width="8.99" height="8.96" fill="rgb(0,115,255)"/>
<rect x="577.33" y="164.64" width="8.99" height="8.96" fill="rgb(0,115,255)"/>
<rect x="586.02" y="164.64" width="8.99" height="8.96" fill="rgb(0,45,255)"/>
<rect x="594.71" y="164.64" width="8.99" height="8.96" fill="rgb(0,45,255)"/>
<rect x="603.40" y="164.64" width="8.99" height="8.96" fill="rgb(0,45,255)"/>
<rect x="612.09" y="164.64" width="8.99" height="8.96" fill="rgb(0,45,255)"/>
<rect x="620.78" y="164.64" width="8.99" height="8.96" fill="rgb(0,115,255)"/>
<rect x="629.47" y="164.64" width="8.99" height="8.96" fill="rgb(0,45,255)"/>
<rect x="638.16" y="164.64" width="8.99" height="8.96" fill="rgb(0,45,255)"/>
<rect x="646.85" y="164.64" width="8.99" height="8.96" fill="rgb(0,45,255)"/>
<rect x="438.29" y="173.30" width="8.99" height="8.96" fill="rgb(0,45,255)"/>
<rect x="446.98" y="173.30" width="8.99" height="8.96" fill="rgb(0,115,255)"/>
<rect x="455.67" y="173.30" width="8.99" height="8.96" fill="rgb(0,45,255)"/>
<rect x="499.12" y="173.30" width="8.99" height="8.96" fill="rgb(0,45,255)"/>
<rect x="507.81" y="173.30" width="8.99" height="8.96" fill="rgb(0,250,250)"/>
<rect x="516.50" y="173.30" width="8.99" height="8.96" fill="rgb(0,250,250)"/>
<rect x="525.19" y="173.30" width="8.99" height="8.96" fill="rgb(0,45,255)"/>
<rect x="542.57" y="173.30" width="8.99" height="8.96" fill="rgb(0,45,255)"/>
<rect x="551.26" y="173.30" width="8.99" height="8.96" fill="rgb(0,45,255)"/>
<rect x="559.95" y="173.30" width="8.99" height="8.96" fill="rgb(0,115,255)"/>
<rect x="568.64" y="173.30" width="8.99" height="8.96" fill="rgb(0,115,255)"/>
<rect x="577.33" y="173.30" width="8.99" height="8.96" fill="rgb(0,45,255)"/>
<rect x="586.02" y="173.30" width="8.99" height="8.96" fill="rgb(0,45,255)"/>
<rect x="594.71" y="173.30" width="8.99" height="8.96" fill="rgb(0,45,255)"/>
<rect x="603.40" y="173.30" width="8.99" height="8.96" fill="rgb(0,115,255)"/>
<rect x="612.09" y="173.30" width="8.99" height="8.96" fill="rgb(0,45,255)"/>
<rect x="620.78" y="173.30" width="8.99" height="8.96" fill="rgb(0,45,255)"/>
<rect x="646.85" y="173.30" width="8.99" height="8.96" fill="rgb(0,45,255)"/>
<rect x="655.54" y="173.30" width="8.99" height="8.96" fill="rgb(0,115,255)"/>
<rect x="664.23" y="173.30" width="8.99" height="8.96" fill="rgb(0,115,255)"/>
<rect x="507.81" y="181.96" width="8.99" height="8.96" fill="rgb(0,45,255)"/>
<rect x="516.50" y="181.96" width="8.99" height="8.96" fill="rgb(0,45,255)"/>
<rect x="551.26" y="181.96" width="8.99" height="8.96" fill="rgb(0,45,255)"/>
<rect x="559.95" y="181.96" width="8.99" height="8.96" fill="rgb(0,45,255)"/>
<rect x="568.64" y="181.96" width="8.99" height="8.96" fill="rgb(0,45,255)"/>
<rect x="577.33" y="181.96" width="8.99" height="8.96" fill="rgb(0,45,255)"/>
<rect x="586.02" y="181.96" width="8.99" height="8.96" fill="rgb(0,45,255)"/>
<rect x="594.71" y="181.96" width="8.99" height="8.96" fill="rgb(0,115,255)"/>
<rect x="603.40" y="181.96" width="8.99" height="8.96" fill="rgb(0,115,255)"/>
<rect x="612.09" y="181.96" width="8.99" height="8.96" fill="rgb(0,45,255)"/>
<rect x="646.85" y="181.96" width="8.99" height="8.96" fill="rgb(0,115,255)"/>
<rect x="655.54" y="181.96" width="8.99" height="8.96" fill="rgb(200,250,50)"/>
<rect x="664.23" y="181.96" width="8.99" height="8.96" fill="rgb(200,250,50)"/>
<rect x="533.88" y="190.62" width="8.99" height="8.96" fill="rgb(0,45,255)"/>
<rect x="551.26" y="190.62" width="8.99" height="8.96" fill="rgb(0,115,255)"/>
<rect x="559.95" y="190.62" width="8.99" height="8.96" fill="rgb(0,115,255)"/>
<rect x="568.64" y="190.62" width="8.99" height="8.96" fill="rgb(0,45,255)"/>
<rect x="586.02" y="190.62" width="8.99" height="8.96" fill="rgb(0,250,250)"/>
<rect x="594.71" y="190.62" width="8.99" height="8.96" fill="rgb(140,250,120)"/>
<rect x="603.40" y="190.62" width="8.99" height="8.96" fill="rgb(140,250,120)"/>
<rect x="612.09" y="190.62" width="8.99" height="8.96" fill="rgb(0,45,255)"/>
<rect x="646.85" y="190.62" width="8.99" height="8.96" fill="rgb(0,250,250)"/>
<rect x="655.54" y="190.62" width="8.99" height="8.96" fill="rgb(235,140,80)"/>
<rect x="664.23" y="190.62" width="8.99" height="8.96" fill="rgb(235,140,80)"/>
<rect x="533.88" y="199.28" width="8.99" height="8.96" fill="rgb(0,115,255)"/>
<rect x="542.57" y="199.28" width="8.99" height="8.96" fill="rgb(0,250,250)"/>
<rect x="551.26" y="199.28" width="8.99" height="8.96" fill="rgb(90,255,190)"/>
<rect x="559.95" y="199.28" width="8.99" height="8.96" fill="rgb(0,250,250)"/>
<rect x="568.64" y="199.28" width="8.99" height="8.96" fill="rgb(0,45,255)"/>
<rect x="577.33" y="199.28" width="8.99" height="8.96" fill="rgb(0,45,255)"/>
<rect x="586.02" y="199.28" width="8.99" height="8.96" fill="rgb(0,250,250)"/>
<rect x="594.71" y="199.28" width="8.99" height="8.96" fill="rgb(255,235,0)"/>
<rect x="603.40" y="199.28" width="8.99" height="8.96" fill="rgb(90,255,190)"/>
<rect x="612.09" y="199.28" width="8.99" height="8.96" fill="rgb(0,45,255)"/>
<rect x="646.85" y="199.28" width="8.99" height="8.96" fill="rgb(0,115,255)"/>
<rect x="655.54" y="199.28" width="8.99" height="8.96" fill="rgb(0,250,250)"/>
<rect x="664.23" y="199.28" width="8.99" height="8.96" fill="rgb(0,250,250)"/>
<rect x="420.91" y="207.94" width="8.99" height="8.96" fill="rgb(0,45,255)"/>
<rect x="499.12" y="207.94" width="8.99" height="8.96" fill="rgb(0,115,255)"/>
<rect x="507.81" y="207.94" width="8.99" height="8.96" fill="rgb(0,115,255)"/>
<rect x="516.50" y="207.94" width="8.99" height="8.96" fill="rgb(0,115,255)"/>
<rect x="533.88" y="207.94" width="8.99" height="8.96" fill="rgb(0,45,255)"/>
<rect x="542.57" y="207.94" width="8.99" height="8.96" fill="rgb(90,255,190)"/>
<rect x="551.26" y="207.94" width="8.99" height="8.96" fill="rgb(128,0,0)"/>
<rect x="559.95" y="207.94" width="8.99" height="8.96" fill="rgb(200,250,50)"/>
<rect x="568.64" y="207.94" width="8.99" height="8.96" fill="rgb(0,115,255)"/>
<rect x="577.33" y="207.94" width="8.99" height="8.96" fill="rgb(0,45,255)"/>
<rect x="586.02" y="207.94" width="8.99" height="8.96" fill="rgb(0,45,255)"/>
<rect x="594.71" y="207.94" width="8.99" height="8.96" fill="rgb(0,115,255)"/>
<rect x="603.40" y="207.94" width="8.99" height="8.96" fill="rgb(0,190,255)"/>
<rect x="612.09" y="207.94" width="8.99" height="8.96" fill="rgb(0,115,255)"/>
<rect x="646.85" y="207.94" width="8.99" height="8.96" fill="rgb(0,45,255)"/>
<rect x="655.54" y="207.94" width="8.99" height="8.96" fill="rgb(0,115,255)"/>
<rect x="664.23" y="207.94" width="8.99" height="8.96" fill="rgb(0,45,255)"/>
<rect x="403.53" y="216.60" width="8.99" height="8.96" fill="rgb(0,45,255)"/>
<rect x="412.22" y="216.60" width="8.99" height="8.96" fill="rgb(0,45,255)"/>
<rect x="420.91" y="216.60" width="8.99" height="8.96" fill="rgb(0,45,255)"/>
<rect x="429.60" y="216.60" width="8.99" height="8.96" fill="rgb(0,45,255)"/>
<rect x="438.29" y="216.60" width="8.99" height="8.96" fill="rgb(0,45,255)"/>
<rect x="490.43" y="216.60" width="8.99" height="8.96" fill="rgb(0,45,255)"/>
<rect x="499.12" y="216.60" width="8.99" height="8.96" fill="rgb(0,250,250)"/>
<rect x="507.81" y="216.60" width="8.99" height="8.96" fill="rgb(140,250,120)"/>
<rect x="516.50" y="216.60" width="8.99" height="8.96" fill="rgb(0,250,250)"/>
<rect x="525.19" y="216.60" width="8.99" height="8.96" fill="rgb(0,45,255)"/>
<rect x="542.57" y="216.60" width="8.99" height="8.96" fill="rgb(0,250,250)"/>
<rect x="551.26" y="216.60" width="8.99" height="8.96" fill="rgb(90,255,190)"/>
<rect x="559.95" y="216.60" width="8.99" height="8.96" fill="rgb(0,250,250)"/>
<rect x="568.64" y="216.60" width="8.99" height="8.96" fill="rgb(0,115,255)"/>
<rect x="577.33" y="216.60" width="8.99" height="8.96" fill="rgb(0,115,255)"/>
<rect x="586.02" y="216.60" width="8.99" height="8.96" fill="rgb(0,45,255)"/>
<rect x="603.40" y="216.60" width="8.99" height="8.96" fill="rgb(0,45,255)"/>
<rect x="664.23" y="216.60" width="8.99" height="8.96" fill="rgb(0,45,255)"/>
<rect x="403.53" y="225.26" width="8.99" height="8.96" fill="rgb(0,115,255)"/>
<rect x="412.22" y="225.26" width="8.99" height="8.96" fill="rgb(90,255,190)"/>
<rect x="420.91" y="225.26" width="8.99" height="8.96" fill="rgb(90,255,190)"/>
<rect x="429.60" y="225.26" width="8.99" height="8.96" fill="rgb(0,250,250)"/>
<rect x="438.29" y="225.26" width="8.99" height="8.96" fill="rgb(0,115,255)"/>
<rect x="446.98" y="225.26" width="8.99" height="8.96" fill="rgb(0,45,255)"/>
<rect x="490.43" y="225.26" width="8.99" height="8.96" fill="rgb(0,45,255)"/>
<rect x="499.12" y="225.26" width="8.99" height="8.96" fill="rgb(90,255,190)"/>
<rect x="507.81" y="225.26" width="8.99" height="8.96" fill="rgb(200,250,50)"/>
<rect x="516.50" y="225.26" width="8.99" height="8.96" fill="rgb(0,250,250)"/>
<rect x="525.19" y="225.26" width="8.99" height="8.96" fill="rgb(0,45,255)"/>
<rect x="542.57" y="225.26" width="8.99" height="8.96" fill="rgb(0,115,255)"/>
<rect x="551.26" y="225.26" width="8.99" height="8.96" fill="rgb(0,190,255)"/>
<rect x="559.95" y="225.26" width="8.99" height="8.96" fill="rgb(0,250,250)"/>
<rect x="568.64" y="225.26" width="8.99" height="8.96" fill="rgb(0,190,255)"/>
<rect x="577.33" y="225.26" width="8.99" height="8.96" fill="rgb(0,190,255)"/>
<rect x="586.02" y="225.26" width="8.99" height="8.96" fill="rgb(0,45,255)"/>
<rect x="403.53" y="233.92" width="8.99" height="8.96" fill="rgb(0,250,250)"/>
<rect x="412.22" y="233.92" width="8.99" height="8.96" fill="rgb(128,0,0)"/>
<rect x="420.91" y="233.92" width="8.99" height="8.96" fill="rgb(128,0,0)"/>
<rect x="429.60" y="233.92" width="8.99" height="8.96" fill="rgb(200,250,50)"/>
<rect x="438.29" y="233.92" width="8.99" height="8.96" fill="rgb(0,250,250)"/>
<rect x="446.98" y="233.92" width="8.99" height="8.96" fill="rgb(0,45,255)"/>
<rect x="455.67" y="233.92" width="8.99" height="8.96" fill="rgb(0,45,255)"/>
<rect x="464.36" y="233.92" width="8.99" height="8.96" fill="rgb(0,45,255)"/>
<rect x="473.05" y="233.92" width="8.99" height="8.96" fill="rgb(0,45,255)"/>
<rect x="481.74" y="233.92" width="8.99" height="8.96" fill="rgb(0,45,255)"/>
<rect x="490.43" y="233.92" width="8.99" height="8.96" fill="rgb(0,45,255)"/>
<rect x="499.12" y="233.92" width="8.99" height="8.96" fill="rgb(0,115,255)"/>
<rect x="507.81" y="233.92" width="8.99" height="8.96" fill="rgb(0,190,255)"/>
<rect x="516.50" y="233.92" width="8.99" height="8.96" fill="rgb(0,115,255)"/>
<rect x="542.57" y="233.92" width="8.99" height="8.96" fill="rgb(0,45,255)"/>
<rect x="551.26" y="233.92" width="8.99" height="8.96" fill="rgb(140,250,120)"/>
<rect x="559.95" y="233.92" width="8.99" height="8.96" fill="rgb(140,250,120)"/>
<rect x="568.64" y="233.92" width="8.99" height="8.96" fill="rgb(0,190,255)"/>
<rect x="577.33" y="233.92" width="8.99" height="8.96" fill="rgb(0,45,255)"/>
<rect x="638.16" y="233.92" width="8.99" height="8.96" fill="rgb(0,45,255)"/>
<rect x="403.53" y="242.58" width="8.99" height="8.96" fill="rgb(0,115,255)"/>
<rect x="412.22" y="242.58" width="8.99" height="8.96" fill="rgb(90,255,190)"/>
<rect x="420.91" y="242.58" width="8.99" height="8.96" fill="rgb(90,255,190)"/>
<rect x="429.60" y="242.58" width="8.99" height="8.96" fill="rgb(0,250,250)"/>
<rect x="438.29" y="242.58" width="8.99" height="8.96" fill="rgb(0,115,255)"/>
<rect x="446.98" y="242.58" width="8.99" height="8.96" fill="rgb(0,45,255)"/>
<rect x="455.67" y="242.58" width="8.99" height="8.96" fill="rgb(0,115,255)"/>
<rect x="464.36" y="242.58" width="8.99" height="8.96" fill="rgb(0,115,255)"/>
<rect x="473.05" y="242.58" width="8.99" height="8.96" fill="rgb(0,250,250)"/>
<rect x="481.74" y="242.58" width="8.99" height="8.96" fill="rgb(0,250,250)"/>
<rect x="490.43" y="242.58" width="8.99" height="8.96" fill="rgb(0,190,255)"/>
<rect x="499.12" y="242.58" width="8.99" height="8.96" fill="rgb(0,45,255)"/>
<rect x="507.81" y="242.58" width="8.99" height="8.96" fill="rgb(0,45,255)"/>
<rect x="542.57" y="242.58" width="8.99" height="8.96" fill="rgb(0,115,255)"/>
<rect x="551.26" y="242.58" width="8.99" height="8.96" fill="rgb(255,235,0)"/>
<rect x="559.95" y="242.58" width="8.99" height="8.96" fill="rgb(255,235,0)"/>
<rect x="568.64" y="242.58" width="8.99" height="8.96" fill="rgb(0,190,255)"/>
<rect x="629.47" y="242.58" width="8.99" height="8.96" fill="rgb(0,115,255)"/>
<rect x="638.16" y="242.58" width="8.99" height="8.96" fill="rgb(0,115,255)"/>
<rect x="646.85" y="242.58" width="8.99" height="8.96" fill="rgb(0,45,255)"/>
<rect x="403.53" y="251.24" width="8.99" height="8.96" fill="rgb(0,45,255)"/>
<rect x="412.22" y="251.24" width="8.99" height="8.96" fill="rgb(0,115,255)"/>
<rect x="420.91" y="251.24" width="8.99" height="8.96" fill="rgb(0,250,250)"/>
<rect x="429.60" y="251.24" width="8.99" height="8.96" fill="rgb(0,250,250)"/>
<rect x="438.29" y="251.24" width="8.99" height="8.96" fill="rgb(0,115,255)"/>
<rect x="446.98" y="251.24" width="8.99" height="8.96" fill="rgb(0,45,255)"/>
<rect x="455.67" y="251.24" width="8.99" height="8.96" fill="rgb(0,190,255)"/>
<rect x="464.36" y="251.24" width="8.99" height="8.96" fill="rgb(0,250,250)"/>
<rect x="473.05" y="251.24" width="8.99" height="8.96" fill="rgb(255,235,0)"/>
<rect x="481.74" y="251.24" width="8.99" height="8.96" fill="rgb(235,140,80)"/>
<rect x="490.43" y="251.24" width="8.99" height="8.96" fill="rgb(90,255,190)"/>
<rect x="499.12" y="251.24" width="8.99" height="8.96" fill="rgb(0,45,255)"/>
<rect x="542.57" y="251.24" width="8.99" height="8.96" fill="rgb(0,45,255)"/>
<rect x="551.26" y="251.24" width="8.99" height="8.96" fill="rgb(0,250,250)"/>
<rect x="559.95" y="251.24" width="8.99" height="8.96" fill="rgb(0,250,250)"/>
<rect x="568.64" y="251.24" width="8.99" height="8.96" fill="rgb(0,115,255)"/>
<rect x="620.78" y="251.24" width="8.99" height="8.96" fill="rgb(0,45,255)"/>
<rect x="629.47" y="251.24" width="8.99" height="8.96" fill="rgb(0,250,250)"/>
<rect x="638.16" y="251.24" width="8.99" height="8.96" fill="rgb(90,255,190)"/>
<rect x="646.85" y="251.24" width="8.99" height="8.96" fill="rgb(0,190,255)"/>
<rect x="655.54" y="251.24" width="8.99" height="8.96" fill="rgb(0,45,255)"/>
<rect x="394.84" y="259.90" width="8.99" height="8.96" fill="rgb(0,45,255)"/>
<rect x="403.53" y="259.90" width="8.99" height="8.96" fill="rgb(0,45,255)"/>
<rect x="412.22" y="259.90" width="8.99" height="8.96" fill="rgb(0,190,255)"/>
<rect x="420.91" y="259.90" width="8.99" height="8.96" fill="rgb(255,235,0)"/>
<rect x="429.60" y="259.90" width="8.99" height="8.96" fill="rgb(250,0,0)"/>
<rect x="438.29" y="259.90" width="8.99" height="8.96" fill="rgb(140,250,120)"/>
<rect x="446.98" y="259.90" width="8.99" height="8.96" fill="rgb(0,115,255)"/>
<rect x="455.67" y="259.90" width="8.99" height="8.96" fill="rgb(0,250,250)"/>
<rect x="464.36" y="259.90" width="8.99" height="8.96" fill="rgb(235,140,80)"/>
<rect x="473.05" y="259.90" width="8.99" height="8.96" fill="rgb(128,0,0)"/>
<rect x="481.74" y="259.90" width="8.99" height="8.96" fill="rgb(128,0,0)"/>
<rect x="490.43" y="259.90" width="8.99" height="8.96" fill="rgb(140,250,120)"/>
<rect x="499.12" y="259.90" width="8.99" height="8.96" fill="rgb(0,45,255)"/>
<rect x="533.88" y="259.90" width="8.99" height="8.96" fill="rgb(0,45,255)"/>
<rect x="542.57" y="259.90" width="8.99" height="8.96" fill="rgb(0,115,255)"/>
<rect x="551.26" y="259.90" width="8.99" height="8.96" fill="rgb(0,115,255)"/>
<rect x="559.95" y="259.90" width="8.99" height="8.96" fill="rgb(0,115,255)"/>
<rect x="620.78" y="259.90" width="8.99" height="8.96" fill="rgb(0,115,255)"/>
<rect x="629.47" y="259.90" width="8.99" height="8.96" fill="rgb(128,0,0)"/>
<rect x="638.16" y="259.90" width="8.99" height="8.96" fill="rgb(128,0,0)"/>
<rect x="646.85" y="259.90" width="8.99" height="8.96" fill="rgb(90,255,190)"/>
<rect x="655.54" y="259.90" width="8.99" height="8.96" fill="rgb(0,45,255)"/>
<rect x="386.15" y="268.56" width="8.99" height="8.96" fill="rgb(0,45,255)"/>
<rect x="394.84" y="268.56" width="8.99" height="8.96" fill="rgb(0,115,255)"/>
<rect x="403.53" y="268.56" width="8.99" height="8.96" fill="rgb(0,115,255)"/>
<rect x="412.22" y="268.56" width="8.99" height="8.96" fill="rgb(0,190,255)"/>
<rect x="420.91" y="268.56" width="8.99" height="8.96" fill="rgb(140,250,120)"/>
<rect x="429.60" y="268.56" width="8.99" height="8.96" fill="rgb(128,0,0)"/>
<rect x="438.29" y="268.56" width="8.99" height="8.96" fill="rgb(128,0,0)"/>
<rect x="446.98" y="268.56" width="8.99" height="8.96" fill="rgb(0,250,250)"/>
<rect x="455.67" y="268.56" width="8.99" height="8.96" fill="rgb(0,250,250)"/>
<rect x="464.36" y="268.56" width="8.99" height="8.96" fill="rgb(128,0,0)"/>
<rect x="473.05" y="268.56" width="8.99" height="8.96" fill="rgb(128,0,0)"/>
<rect x="481.74" y="268.56" width="8.99" height="8.96" fill="rgb(128,0,0)"/>
<rect x="490.43" y="268.56" width="8.99" height="8.96" fill="rgb(0,250,250)"/>
<rect x="499.12" y="268.56" width="8.99" height="8.96" fill="rgb(0,45,255)"/>
<rect x="533.88" y="268.56" width="8.99" height="8.96" fill="rgb(0,115,255)"/>
<rect x="542.57" y="268.56" width="8.99" height="8.96" fill="rgb(140,250,120)"/>
<rect x="551.26" y="268.56" width="8.99" height="8.96" fill="rgb(140,250,120)"/>
<rect x="559.95" y="268.56" width="8.99" height="8.96" fill="rgb(0,115,255)"/>
<rect x="620.78" y="268.56" width="8.99" height="8.96" fill="rgb(0,45,255)"/>
<rect x="629.47" y="268.56" width="8.99" height="8.96" fill="rgb(140,250,120)"/>
<rect x="638.16" y="268.56" width="8.99" height="8.96" fill="rgb(200,250,50)"/>
<rect x="646.85" y="268.56" width="8.99" height="8.96" fill="rgb(0,250,250)"/>
<rect x="655.54" y="268.56" width="8.99" height="8.96" fill="rgb(0,45,255)"/>
<rect x="386.15" y="277.22" width="8.99" height="8.96" fill="rgb(0,115,255)"/>
<rect x="394.84" y="277.22" width="8.99" height="8.96" fill="rgb(140,250,120)"/>
<rect x="403.53" y="277.22" width="8.99" height="8.96" fill="rgb(140,250,120)"/>
<rect x="412.22" y="277.22" width="8.99" height="8.96" fill="rgb(0,45,255)"/>
<rect x="420.91" y="277.22" width="8.99" height="8.96" fill="rgb(0,190,255)"/>
<rect x="429.60" y="277.22" width="8.99" height="8.96" fill="rgb(140,250,120)"/>
<rect x="438.29" y="277.22" width="8.99" height="8.96" fill="rgb(235,140,80)"/>
<rect x="446.98" y="277.22" width="8.99" height="8.96" fill="rgb(140,250,120)"/>
<rect x="455.67" y="277.22" width="8.99" height="8.96" fill="rgb(0,250,250)"/>
<rect x="464.36" y="277.22" width="8.99" height="8.96" fill="rgb(90,255,190)"/>
<rect x="473.05" y="277.22" width="8.99" height="8.96" fill="rgb(140,250,120)"/>
<rect x="481.74" y="277.22" width="8.99" height="8.96" fill="rgb(0,250,250)"/>
<rect x="490.43" y="277.22" width="8.99" height="8.96" fill="rgb(0,115,255)"/>
<rect x="533.88" y="277.22" width="8.99" height="8.96" fill="rgb(0,190,255)"/>
<rect x="542.57" y="277.22" width="8.99" height="8.96" fill="rgb(140,250,120)"/>
<rect x="551.26" y="277.22" width="8.99" height="8.96" fill="rgb(140,250,120)"/>
<rect x="559.95" y="277.22" width="8.99" height="8.96" fill="rgb(0,115,255)"/>
<rect x="620.78" y="277.22" width="8.99" height="8.96" fill="rgb(0,45,255)"/>
<rect x="629.47" y="277.22" width="8.99" height="8.96" fill="rgb(0,115,255)"/>
<rect x="638.16" y="277.22" width="8.99" height="8.96" fill="rgb(0,115,255)"/>
<rect x="646.85" y="277.22" width="8.99" height="8.96" fill="rgb(0,45,255)"/>
<rect x="664.23" y="277.22" width="8.99" height="8.96" fill="rgb(0,45,255)"/>
<rect x="386.15" y="285.88" width="8.99" height="8.96" fill="rgb(0,115,255)"/>
<rect x="394.84" y="285.88" width="8.99" height="8.96" fill="rgb(0,250,250)"/>
<rect x="403.53" y="285.88" width="8.99" height="8.96" fill="rgb(0,250,250)"/>
<rect x="412.22" y="285.88" width="8.99" height="8.96" fill="rgb(0,45,255)"/>
<rect x="420.91" y="285.88" width="8.99" height="8.96" fill="rgb(0,115,255)"/>
<rect x="429.60" y="285.88" width="8.99" height="8.96" fill="rgb(0,250,250)"/>
<rect x="438.29" y="285.88" width="8.99" height="8.96" fill="rgb(255,235,0)"/>
<rect x="446.98" y="285.88" width="8.99" height="8.96" fill="rgb(140,250,120)"/>
<rect x="455.67" y="285.88" width="8.99" height="8.96" fill="rgb(90,255,190)"/>
<rect x="464.36" y="285.88" width="8.99" height="8.96" fill="rgb(255,235,0)"/>
<rect x="473.05" y="285.88" width="8.99" height="8.96" fill="rgb(90,255,190)"/>
<rect x="481.74" y="285.88" width="8.99" height="8.96" fill="rgb(0,115,255)"/>
<rect x="490.43" y="285.88" width="8.99" height="8.96" fill="rgb(0,45,255)"/>
<rect x="533.88" y="285.88" width="8.99" height="8.96" fill="rgb(0,115,255)"/>
<rect x="542.57" y="285.88" width="8.99" height="8.96" fill="rgb(0,190,255)"/>
<rect x="551.26" y="285.88" width="8.99" height="8.96" fill="rgb(0,190,255)"/>
<rect x="559.95" y="285.88" width="8.99" height="8.96" fill="rgb(0,45,255)"/>
<rect x="638.16" y="285.88" width="8.99" height="8.96" fill="rgb(0,45,255)"/>
<rect x="664.23" y="285.88" width="8.99" height="8.96" fill="rgb(0,45,255)"/>
<rect x="386.15" y="294.54" width="8.99" height="8.96" fill="rgb(0,45,255)"/>
<rect x="394.84" y="294.54" width="8.99" height="8.96" fill="rgb(0,115,255)"/>
<rect x="403.53" y="294.54" width="8.99" height="8.96" fill="rgb(0,115,255)"/>
<rect x="412.22" y="294.54" width="8.99" height="8.96" fill="rgb(0,45,255)"/>
<rect x="420.91" y="294.54" width="8.99" height="8.96" fill="rgb(0,45,255)"/>
<rect x="429.60" y="294.54" width="8.99" height="8.96" fill="rgb(0,115,255)"/>
<rect x="438.29" y="294.54" width="8.99" height="8.96" fill="rgb(0,115,255)"/>
<rect x="446.98" y="294.54" width="8.99" height="8.96" fill="rgb(0,115,255)"/>
<rect x="455.67" y="294.54" width="8.99" height="8.96" fill="rgb(140,250,120)"/>
<rect x="464.36" y="294.54" width="8.99" height="8.96" fill="rgb(128,0,0)"/>
<rect x="473.05" y="294.54" width="8.99" height="8.96" fill="rgb(140,250,120)"/>
<rect x="481.74" y="294.54" width="8.99" height="8.96" fill="rgb(0,115,255)"/>
<rect x="490.43" y="294.54" width="8.99" height="8.96" fill="rgb(0,45,255)"/>
<rect x="533.88" y="294.54" width="8.99" height="8.96" fill="rgb(0,45,255)"/>
<rect x="542.57" y="294.54" width="8.99" height="8.96" fill="rgb(0,115,255)"/>
<rect x="551.26" y="294.54" width="8.99" height="8.96" fill="rgb(0,45,255)"/>
<rect x="559.95" y="294.54" width="8.99" height="8.96" fill="rgb(0,45,255)"/>
<rect x="664.23" y="294.54" width="8.99" height="8.96" fill="rgb(0,45,255)"/>
</g></g>
<rect x="346.65" y="3.45" width="327.1" height="299.8" fill="none" stroke="#000" stroke-width="2.6"/>
<circle cx="515.3" cy="174" r="24.6" fill="none" stroke="#f00" stroke-width="9.8"/>
<text x="368.8" y="39.3" font-size="41.5" font-weight="bold" fill="#fff">b</text>
<rect x="84" y="317.3" width="591" height="377.2" fill="none" stroke="#333" stroke-width="2.2"/>
<path d="M137.0 318v6M137.0 694v-6M271.2 318v6M271.2 694v-6M405.4 318v6M405.4 694v-6M539.6 318v6M539.6 694v-6M84 385.5h6M675 385.5h-6M84 522.9h6M675 522.9h-6M84 660.3h6M675 660.3h-6" stroke="#333" stroke-width="2" fill="none"/>
<text x="76.3" y="393.7" font-size="25.3" font-weight="bold" text-anchor="end">1</text>
<text x="76.3" y="531.1" font-size="25.3" font-weight="bold" text-anchor="end">0.8</text>
<text x="76.3" y="668.5" font-size="25.3" font-weight="bold" text-anchor="end">0.6</text>
<text x="137.0" y="721.8" font-size="25.3" font-weight="bold" text-anchor="middle">1.6</text>
<text x="271.2" y="721.8" font-size="25.3" font-weight="bold" text-anchor="middle">1.7</text>
<text x="405.4" y="721.8" font-size="25.3" font-weight="bold" text-anchor="middle">1.8</text>
<text x="539.6" y="721.8" font-size="25.3" font-weight="bold" text-anchor="middle">1.9</text>
<text x="674.5" y="721.8" font-size="25.3" font-weight="bold" text-anchor="middle">2</text>
<text transform="translate(298 746.9) scale(1 1.17)" x="0" y="0" font-size="26" font-weight="bold" textLength="168.5" lengthAdjust="spacingAndGlyphs">Energy (eV)</text>
<text transform="translate(25.0 714.2) rotate(-90)" x="0" y="0" font-size="31" font-weight="bold" textLength="398.5" lengthAdjust="spacingAndGlyphs">Normalized Scattering (a.u.)</text>
<g clip-path="url(#cc)">
<path d="M212.9 637.0h6.0v6.0h-6.0zM216.6 634.3h6.0v6.0h-6.0zM220.0 632.5h6.0v6.0h-6.0zM223.2 629.8h6.0v6.0h-6.0zM226.7 626.1h6.0v6.0h-6.0zM230.2 621.4h6.0v6.0h-6.0zM234.0 619.4h6.0v6.0h-6.0zM237.3 613.4h6.0v6.0h-6.0zM241.1 610.8h6.0v6.0h-6.0zM244.5 604.4h6.0v6.0h-6.0zM248.3 598.5h6.0v6.0h-6.0zM251.7 594.0h6.0v6.0h-6.0zM254.8 588.0h6.0v6.0h-6.0zM258.4 584.3h6.0v6.0h-6.0zM261.8 577.9h6.0v6.0h-6.0zM265.6 571.6h6.0v6.0h-6.0zM269.0 565.0h6.0v6.0h-6.0zM272.2 559.6h6.0v6.0h-6.0zM276.1 554.6h6.0v6.0h-6.0zM279.4 549.4h6.0v6.0h-6.0zM283.0 543.1h6.0v6.0h-6.0zM286.7 539.1h6.0v6.0h-6.0zM289.8 533.8h6.0v6.0h-6.0zM293.5 529.9h6.0v6.0h-6.0zM297.1 523.4h6.0v6.0h-6.0zM300.8 517.8h6.0v6.0h-6.0zM304.0 514.8h6.0v6.0h-6.0zM307.3 510.0h6.0v6.0h-6.0zM310.7 506.6h6.0v6.0h-6.0zM314.7 501.9h6.0v6.0h-6.0zM318.2 496.5h6.0v6.0h-6.0zM321.6 493.1h6.0v6.0h-6.0zM325.0 488.8h6.0v6.0h-6.0zM328.7 485.8h6.0v6.0h-6.0zM332.0 479.7h6.0v6.0h-6.0zM335.2 474.7h6.0v6.0h-6.0zM339.1 471.0h6.0v6.0h-6.0zM342.7 464.3h6.0v6.0h-6.0zM345.9 459.5h6.0v6.0h-6.0zM349.2 453.5h6.0v6.0h-6.0zM352.8 447.9h6.0v6.0h-6.0zM356.2 445.4h6.0v6.0h-6.0zM359.8 440.0h6.0v6.0h-6.0zM363.4 438.1h6.0v6.0h-6.0zM366.7 433.5h6.0v6.0h-6.0zM370.5 431.4h6.0v6.0h-6.0zM374.2 428.1h6.0v6.0h-6.0zM377.4 423.8h6.0v6.0h-6.0zM380.9 422.2h6.0v6.0h-6.0zM384.8 417.2h6.0v6.0h-6.0zM387.8 414.7h6.0v6.0h-6.0zM391.3 412.7h6.0v6.0h-6.0zM395.1 409.4h6.0v6.0h-6.0zM398.2 407.2h6.0v6.0h-6.0zM401.9 405.0h6.0v6.0h-6.0zM405.8 402.9h6.0v6.0h-6.0zM409.0 400.3h6.0v6.0h-6.0zM412.6 396.6h6.0v6.0h-6.0zM416.2 396.5h6.0v6.0h-6.0zM419.7 394.5h6.0v6.0h-6.0zM422.9 391.4h6.0v6.0h-6.0zM426.3 390.1h6.0v6.0h-6.0zM429.7 386.6h6.0v6.0h-6.0zM433.3 385.4h6.0v6.0h-6.0zM436.9 384.0h6.0v6.0h-6.0zM440.2 383.5h6.0v6.0h-6.0zM443.8 383.8h6.0v6.0h-6.0zM447.2 385.6h6.0v6.0h-6.0zM451.1 384.6h6.0v6.0h-6.0zM454.4 386.5h6.0v6.0h-6.0zM457.9 387.6h6.0v6.0h-6.0zM461.7 392.0h6.0v6.0h-6.0zM465.0 392.7h6.0v6.0h-6.0zM468.3 394.0h6.0v6.0h-6.0zM471.9 397.2h6.0v6.0h-6.0zM475.7 399.9h6.0v6.0h-6.0zM478.7 405.6h6.0v6.0h-6.0zM482.5 407.1h6.0v6.0h-6.0zM486.0 410.8h6.0v6.0h-6.0zM489.5 417.6h6.0v6.0h-6.0zM493.2 421.2h6.0v6.0h-6.0zM496.4 424.9h6.0v6.0h-6.0zM499.8 430.9h6.0v6.0h-6.0zM503.5 435.9h6.0v6.0h-6.0zM506.9 439.6h6.0v6.0h-6.0zM510.7 447.1h6.0v6.0h-6.0zM514.2 451.9h6.0v6.0h-6.0zM517.7 457.1h6.0v6.0h-6.0zM520.8 461.9h6.0v6.0h-6.0zM524.4 466.0h6.0v6.0h-6.0zM527.7 472.5h6.0v6.0h-6.0zM531.4 479.6h6.0v6.0h-6.0zM535.3 485.1h6.0v6.0h-6.0zM538.8 492.9h6.0v6.0h-6.0zM542.3 497.6h6.0v6.0h-6.0zM545.3 503.8h6.0v6.0h-6.0zM548.8 510.4h6.0v6.0h-6.0zM552.6 519.1h6.0v6.0h-6.0zM556.2 524.7h6.0v6.0h-6.0zM559.6 532.3h6.0v6.0h-6.0zM562.8 538.5h6.0v6.0h-6.0zM566.7 545.2h6.0v6.0h-6.0zM570.2 550.5h6.0v6.0h-6.0zM573.3 557.4h6.0v6.0h-6.0zM576.9 563.3h6.0v6.0h-6.0zM580.8 568.1h6.0v6.0h-6.0zM583.9 575.5h6.0v6.0h-6.0zM587.6 579.0h6.0v6.0h-6.0zM590.8 584.6h6.0v6.0h-6.0zM594.7 591.9h6.0v6.0h-6.0zM597.8 597.4h6.0v6.0h-6.0zM601.8 602.6h6.0v6.0h-6.0zM604.9 607.9h6.0v6.0h-6.0zM608.3 611.9h6.0v6.0h-6.0zM612.3 619.0h6.0v6.0h-6.0zM615.5 624.9h6.0v6.0h-6.0zM619.0 629.6h6.0v6.0h-6.0zM622.7 632.5h6.0v6.0h-6.0zM625.9 637.3h6.0v6.0h-6.0zM629.3 642.5h6.0v6.0h-6.0zM632.9 646.3h6.0v6.0h-6.0zM636.3 651.7h6.0v6.0h-6.0zM639.9 654.3h6.0v6.0h-6.0zM643.6 659.2h6.0v6.0h-6.0zM647.0 662.7h6.0v6.0h-6.0zM650.5 665.0h6.0v6.0h-6.0zM654.0 666.7h6.0v6.0h-6.0zM657.5 670.4h6.0v6.0h-6.0zM660.7 675.2h6.0v6.0h-6.0zM664.3 677.3h6.0v6.0h-6.0zM668.1 680.6h6.0v6.0h-6.0z" fill="rgb(0,0,0)"/>
<path d="M178.9 688.9h6.0v6.0h-6.0zM182.5 684.5h6.0v6.0h-6.0zM185.8 678.8h6.0v6.0h-6.0zM189.3 672.9h6.0v6.0h-6.0zM193.2 668.5h6.0v6.0h-6.0zM196.5 664.3h6.0v6.0h-6.0zM200.2 658.6h6.0v6.0h-6.0zM203.6 654.0h6.0v6.0h-6.0zM207.0 649.7h6.0v6.0h-6.0zM210.5 644.3h6.0v6.0h-6.0zM214.0 640.4h6.0v6.0h-6.0zM217.6 635.0h6.0v6.0h-6.0zM221.3 628.0h6.0v6.0h-6.0zM224.5 624.5h6.0v6.0h-6.0zM228.2 616.6h6.0v6.0h-6.0zM231.3 611.7h6.0v6.0h-6.0zM234.7 605.3h6.0v6.0h-6.0zM238.2 600.5h6.0v6.0h-6.0zM242.2 595.2h6.0v6.0h-6.0zM245.3 588.7h6.0v6.0h-6.0zM249.1 581.0h6.0v6.0h-6.0zM252.7 577.3h6.0v6.0h-6.0zM255.8 571.3h6.0v6.0h-6.0zM259.4 564.0h6.0v6.0h-6.0zM263.3 559.0h6.0v6.0h-6.0zM266.3 551.7h6.0v6.0h-6.0zM270.0 545.2h6.0v6.0h-6.0zM273.3 538.7h6.0v6.0h-6.0zM277.1 531.1h6.0v6.0h-6.0zM280.5 525.6h6.0v6.0h-6.0zM283.7 519.2h6.0v6.0h-6.0zM287.6 513.9h6.0v6.0h-6.0zM290.7 509.5h6.0v6.0h-6.0zM294.7 503.8h6.0v6.0h-6.0zM297.8 496.3h6.0v6.0h-6.0zM301.2 492.6h6.0v6.0h-6.0zM304.9 485.9h6.0v6.0h-6.0zM308.5 483.5h6.0v6.0h-6.0zM312.2 477.1h6.0v6.0h-6.0zM315.3 474.7h6.0v6.0h-6.0zM319.0 470.2h6.0v6.0h-6.0zM322.3 464.7h6.0v6.0h-6.0zM326.1 462.1h6.0v6.0h-6.0zM329.2 459.9h6.0v6.0h-6.0zM333.1 455.7h6.0v6.0h-6.0zM336.3 451.8h6.0v6.0h-6.0zM339.7 447.6h6.0v6.0h-6.0zM343.5 441.8h6.0v6.0h-6.0zM347.0 438.9h6.0v6.0h-6.0zM350.4 432.2h6.0v6.0h-6.0zM354.0 428.4h6.0v6.0h-6.0zM357.3 424.3h6.0v6.0h-6.0zM360.7 420.8h6.0v6.0h-6.0zM364.4 417.5h6.0v6.0h-6.0zM368.2 414.2h6.0v6.0h-6.0zM371.5 410.6h6.0v6.0h-6.0zM374.9 407.1h6.0v6.0h-6.0zM378.4 404.1h6.0v6.0h-6.0zM382.1 402.9h6.0v6.0h-6.0zM385.3 400.2h6.0v6.0h-6.0zM389.3 396.9h6.0v6.0h-6.0zM392.7 395.8h6.0v6.0h-6.0zM396.0 395.1h6.0v6.0h-6.0zM399.4 392.2h6.0v6.0h-6.0zM403.1 391.5h6.0v6.0h-6.0zM406.4 389.1h6.0v6.0h-6.0zM410.1 387.1h6.0v6.0h-6.0zM413.4 385.5h6.0v6.0h-6.0zM416.7 384.7h6.0v6.0h-6.0zM420.2 386.6h6.0v6.0h-6.0zM423.9 385.5h6.0v6.0h-6.0zM427.3 388.3h6.0v6.0h-6.0zM431.2 388.9h6.0v6.0h-6.0zM434.4 389.1h6.0v6.0h-6.0zM437.9 391.4h6.0v6.0h-6.0zM441.3 393.4h6.0v6.0h-6.0zM444.9 397.1h6.0v6.0h-6.0zM448.8 398.6h6.0v6.0h-6.0zM451.8 402.9h6.0v6.0h-6.0zM455.4 404.6h6.0v6.0h-6.0zM458.7 408.3h6.0v6.0h-6.0zM462.5 412.3h6.0v6.0h-6.0zM465.8 416.0h6.0v6.0h-6.0zM469.2 419.1h6.0v6.0h-6.0zM472.8 423.3h6.0v6.0h-6.0zM476.2 426.3h6.0v6.0h-6.0zM479.9 431.2h6.0v6.0h-6.0zM483.6 436.8h6.0v6.0h-6.0zM487.2 442.2h6.0v6.0h-6.0zM490.6 448.0h6.0v6.0h-6.0zM493.9 451.7h6.0v6.0h-6.0zM497.8 456.5h6.0v6.0h-6.0zM501.1 463.4h6.0v6.0h-6.0zM504.2 469.5h6.0v6.0h-6.0zM508.2 474.8h6.0v6.0h-6.0zM511.6 481.4h6.0v6.0h-6.0zM514.8 486.9h6.0v6.0h-6.0zM518.5 494.1h6.0v6.0h-6.0zM522.2 500.3h6.0v6.0h-6.0zM525.6 506.6h6.0v6.0h-6.0zM529.1 512.2h6.0v6.0h-6.0zM532.3 516.5h6.0v6.0h-6.0zM535.8 523.8h6.0v6.0h-6.0zM539.3 531.6h6.0v6.0h-6.0zM543.0 537.4h6.0v6.0h-6.0zM546.6 543.6h6.0v6.0h-6.0zM550.0 547.5h6.0v6.0h-6.0zM553.7 555.2h6.0v6.0h-6.0zM557.0 560.2h6.0v6.0h-6.0zM560.6 564.5h6.0v6.0h-6.0zM564.1 570.6h6.0v6.0h-6.0zM567.2 575.9h6.0v6.0h-6.0zM571.1 581.0h6.0v6.0h-6.0zM574.6 588.1h6.0v6.0h-6.0zM578.0 591.1h6.0v6.0h-6.0zM581.5 596.4h6.0v6.0h-6.0zM585.2 600.3h6.0v6.0h-6.0zM588.6 602.7h6.0v6.0h-6.0zM591.8 606.9h6.0v6.0h-6.0zM595.6 610.4h6.0v6.0h-6.0zM599.0 612.7h6.0v6.0h-6.0zM602.2 616.4h6.0v6.0h-6.0zM606.1 620.3h6.0v6.0h-6.0zM609.6 621.7h6.0v6.0h-6.0zM613.0 624.6h6.0v6.0h-6.0zM616.5 625.8h6.0v6.0h-6.0zM620.2 628.0h6.0v6.0h-6.0zM623.8 632.0h6.0v6.0h-6.0zM626.7 632.4h6.0v6.0h-6.0zM630.7 635.4h6.0v6.0h-6.0zM634.0 634.8h6.0v6.0h-6.0zM637.3 637.9h6.0v6.0h-6.0zM640.8 637.8h6.0v6.0h-6.0zM644.3 638.4h6.0v6.0h-6.0zM648.3 637.8h6.0v6.0h-6.0zM651.7 639.2h6.0v6.0h-6.0zM655.2 639.8h6.0v6.0h-6.0zM658.3 640.1h6.0v6.0h-6.0zM662.0 637.1h6.0v6.0h-6.0zM665.2 637.2h6.0v6.0h-6.0zM669.0 634.7h6.0v6.0h-6.0z" fill="rgb(250,0,0)"/>
<path d="M128.8 689.6h6.0v6.0h-6.0zM132.4 689.7h6.0v6.0h-6.0zM135.7 687.9h6.0v6.0h-6.0zM139.7 683.4h6.0v6.0h-6.0zM143.3 681.6h6.0v6.0h-6.0zM146.7 676.5h6.0v6.0h-6.0zM149.9 672.6h6.0v6.0h-6.0zM153.8 668.7h6.0v6.0h-6.0zM156.9 663.6h6.0v6.0h-6.0zM160.4 657.8h6.0v6.0h-6.0zM163.8 655.4h6.0v6.0h-6.0zM167.4 651.4h6.0v6.0h-6.0zM170.8 645.4h6.0v6.0h-6.0zM174.5 641.2h6.0v6.0h-6.0zM177.9 639.3h6.0v6.0h-6.0zM181.7 634.9h6.0v6.0h-6.0zM185.1 631.1h6.0v6.0h-6.0zM188.8 626.0h6.0v6.0h-6.0zM192.1 620.5h6.0v6.0h-6.0zM195.6 617.5h6.0v6.0h-6.0zM199.2 613.8h6.0v6.0h-6.0zM202.4 607.9h6.0v6.0h-6.0zM206.3 603.9h6.0v6.0h-6.0zM209.5 600.1h6.0v6.0h-6.0zM212.9 596.8h6.0v6.0h-6.0zM216.8 591.0h6.0v6.0h-6.0zM220.1 586.6h6.0v6.0h-6.0zM223.5 582.2h6.0v6.0h-6.0zM226.8 576.8h6.0v6.0h-6.0zM230.3 574.0h6.0v6.0h-6.0zM234.0 567.1h6.0v6.0h-6.0zM237.7 564.2h6.0v6.0h-6.0zM241.0 556.6h6.0v6.0h-6.0zM244.3 551.3h6.0v6.0h-6.0zM247.9 546.0h6.0v6.0h-6.0zM251.3 541.1h6.0v6.0h-6.0zM255.0 537.4h6.0v6.0h-6.0zM258.6 530.7h6.0v6.0h-6.0zM261.9 525.6h6.0v6.0h-6.0zM265.4 519.6h6.0v6.0h-6.0zM268.7 514.0h6.0v6.0h-6.0zM272.8 508.2h6.0v6.0h-6.0zM276.0 504.3h6.0v6.0h-6.0zM279.7 497.9h6.0v6.0h-6.0zM282.9 492.8h6.0v6.0h-6.0zM286.4 488.2h6.0v6.0h-6.0zM290.3 484.3h6.0v6.0h-6.0zM293.7 477.2h6.0v6.0h-6.0zM296.7 474.4h6.0v6.0h-6.0zM300.7 469.2h6.0v6.0h-6.0zM304.1 463.5h6.0v6.0h-6.0zM307.4 461.8h6.0v6.0h-6.0zM311.2 457.5h6.0v6.0h-6.0zM314.8 451.7h6.0v6.0h-6.0zM317.8 447.6h6.0v6.0h-6.0zM321.5 445.2h6.0v6.0h-6.0zM325.3 441.7h6.0v6.0h-6.0zM328.6 438.2h6.0v6.0h-6.0zM332.0 434.1h6.0v6.0h-6.0zM335.2 431.3h6.0v6.0h-6.0zM338.8 428.2h6.0v6.0h-6.0zM342.6 423.0h6.0v6.0h-6.0zM345.8 419.4h6.0v6.0h-6.0zM349.6 417.4h6.0v6.0h-6.0zM352.8 412.5h6.0v6.0h-6.0zM356.5 410.8h6.0v6.0h-6.0zM359.9 406.8h6.0v6.0h-6.0zM363.6 403.4h6.0v6.0h-6.0zM366.9 401.9h6.0v6.0h-6.0zM370.8 399.9h6.0v6.0h-6.0zM374.2 397.0h6.0v6.0h-6.0zM377.3 394.2h6.0v6.0h-6.0zM381.3 393.4h6.0v6.0h-6.0zM384.4 389.7h6.0v6.0h-6.0zM388.0 389.9h6.0v6.0h-6.0zM391.5 387.3h6.0v6.0h-6.0zM395.1 387.8h6.0v6.0h-6.0zM398.3 384.1h6.0v6.0h-6.0zM401.9 384.2h6.0v6.0h-6.0zM405.6 382.8h6.0v6.0h-6.0zM409.2 383.9h6.0v6.0h-6.0zM412.5 382.4h6.0v6.0h-6.0zM416.3 382.9h6.0v6.0h-6.0zM419.7 383.3h6.0v6.0h-6.0zM422.8 385.8h6.0v6.0h-6.0zM426.4 387.8h6.0v6.0h-6.0zM430.0 387.5h6.0v6.0h-6.0zM433.3 390.4h6.0v6.0h-6.0zM437.1 394.6h6.0v6.0h-6.0zM440.3 396.2h6.0v6.0h-6.0zM443.8 401.4h6.0v6.0h-6.0zM447.3 402.7h6.0v6.0h-6.0zM450.7 407.9h6.0v6.0h-6.0zM454.7 413.6h6.0v6.0h-6.0zM458.1 418.7h6.0v6.0h-6.0zM461.8 421.7h6.0v6.0h-6.0zM464.8 428.5h6.0v6.0h-6.0zM468.6 431.2h6.0v6.0h-6.0zM472.1 437.5h6.0v6.0h-6.0zM475.4 442.9h6.0v6.0h-6.0zM478.8 447.5h6.0v6.0h-6.0zM482.4 454.2h6.0v6.0h-6.0zM486.3 459.4h6.0v6.0h-6.0zM489.8 465.5h6.0v6.0h-6.0zM492.9 473.3h6.0v6.0h-6.0zM496.7 478.4h6.0v6.0h-6.0zM499.7 484.9h6.0v6.0h-6.0zM503.4 492.6h6.0v6.0h-6.0zM506.8 497.7h6.0v6.0h-6.0zM510.7 503.7h6.0v6.0h-6.0zM513.9 512.9h6.0v6.0h-6.0zM517.7 517.8h6.0v6.0h-6.0zM520.7 524.7h6.0v6.0h-6.0zM524.8 532.1h6.0v6.0h-6.0zM528.1 540.5h6.0v6.0h-6.0zM531.4 544.8h6.0v6.0h-6.0zM535.3 551.6h6.0v6.0h-6.0zM538.4 557.2h6.0v6.0h-6.0zM541.9 561.1h6.0v6.0h-6.0zM545.2 567.1h6.0v6.0h-6.0zM549.2 571.2h6.0v6.0h-6.0zM552.8 573.9h6.0v6.0h-6.0zM555.8 579.5h6.0v6.0h-6.0zM559.8 585.1h6.0v6.0h-6.0zM562.9 587.4h6.0v6.0h-6.0zM566.5 592.2h6.0v6.0h-6.0zM570.3 595.4h6.0v6.0h-6.0zM573.7 601.0h6.0v6.0h-6.0zM577.2 605.1h6.0v6.0h-6.0zM580.6 607.7h6.0v6.0h-6.0zM583.9 611.3h6.0v6.0h-6.0zM587.7 613.8h6.0v6.0h-6.0zM590.8 618.8h6.0v6.0h-6.0zM594.3 619.8h6.0v6.0h-6.0zM597.7 623.9h6.0v6.0h-6.0zM601.4 627.6h6.0v6.0h-6.0zM605.2 629.9h6.0v6.0h-6.0zM608.4 629.4h6.0v6.0h-6.0zM611.8 632.5h6.0v6.0h-6.0zM615.6 634.2h6.0v6.0h-6.0zM618.8 635.8h6.0v6.0h-6.0zM622.6 638.1h6.0v6.0h-6.0zM626.1 640.1h6.0v6.0h-6.0zM629.6 639.4h6.0v6.0h-6.0zM633.2 641.2h6.0v6.0h-6.0zM636.5 642.6h6.0v6.0h-6.0zM640.1 643.1h6.0v6.0h-6.0zM643.3 644.1h6.0v6.0h-6.0zM646.8 646.7h6.0v6.0h-6.0zM650.5 645.7h6.0v6.0h-6.0zM653.9 647.9h6.0v6.0h-6.0zM657.5 645.9h6.0v6.0h-6.0zM661.2 646.9h6.0v6.0h-6.0zM664.8 644.5h6.0v6.0h-6.0zM668.0 645.3h6.0v6.0h-6.0z" fill="rgb(0,0,250)"/>
<path d="M146.8 691.5h6.0v6.0h-6.0zM149.8 685.0h6.0v6.0h-6.0zM153.4 680.0h6.0v6.0h-6.0zM157.4 676.4h6.0v6.0h-6.0zM160.9 671.2h6.0v6.0h-6.0zM164.3 666.9h6.0v6.0h-6.0zM167.5 663.3h6.0v6.0h-6.0zM171.4 657.1h6.0v6.0h-6.0zM174.7 654.2h6.0v6.0h-6.0zM177.9 649.2h6.0v6.0h-6.0zM181.4 644.5h6.0v6.0h-6.0zM185.0 641.5h6.0v6.0h-6.0zM188.7 636.3h6.0v6.0h-6.0zM191.8 632.7h6.0v6.0h-6.0zM195.7 628.3h6.0v6.0h-6.0zM199.0 624.1h6.0v6.0h-6.0zM202.8 620.7h6.0v6.0h-6.0zM205.8 614.8h6.0v6.0h-6.0zM209.5 611.3h6.0v6.0h-6.0zM213.2 605.1h6.0v6.0h-6.0zM216.4 602.0h6.0v6.0h-6.0zM220.0 595.9h6.0v6.0h-6.0zM223.5 592.9h6.0v6.0h-6.0zM227.0 586.8h6.0v6.0h-6.0zM230.5 581.2h6.0v6.0h-6.0zM234.3 577.5h6.0v6.0h-6.0zM237.5 569.7h6.0v6.0h-6.0zM241.2 564.1h6.0v6.0h-6.0zM244.3 560.4h6.0v6.0h-6.0zM248.1 554.6h6.0v6.0h-6.0zM251.5 549.4h6.0v6.0h-6.0zM255.1 542.0h6.0v6.0h-6.0zM258.3 537.6h6.0v6.0h-6.0zM262.2 533.0h6.0v6.0h-6.0zM265.4 526.3h6.0v6.0h-6.0zM269.0 520.1h6.0v6.0h-6.0zM272.4 513.7h6.0v6.0h-6.0zM276.1 509.8h6.0v6.0h-6.0zM279.4 502.9h6.0v6.0h-6.0zM283.3 498.7h6.0v6.0h-6.0zM286.4 491.0h6.0v6.0h-6.0zM290.4 488.3h6.0v6.0h-6.0zM293.6 480.7h6.0v6.0h-6.0zM297.4 476.8h6.0v6.0h-6.0zM300.8 472.8h6.0v6.0h-6.0zM304.3 467.0h6.0v6.0h-6.0zM307.8 462.9h6.0v6.0h-6.0zM311.0 460.4h6.0v6.0h-6.0zM314.8 454.5h6.0v6.0h-6.0zM317.9 451.1h6.0v6.0h-6.0zM321.6 447.3h6.0v6.0h-6.0zM324.9 443.2h6.0v6.0h-6.0zM328.7 441.3h6.0v6.0h-6.0zM331.8 436.7h6.0v6.0h-6.0zM335.8 431.6h6.0v6.0h-6.0zM339.3 428.1h6.0v6.0h-6.0zM342.7 425.7h6.0v6.0h-6.0zM346.2 421.4h6.0v6.0h-6.0zM349.6 418.6h6.0v6.0h-6.0zM353.1 415.3h6.0v6.0h-6.0zM356.6 411.2h6.0v6.0h-6.0zM359.8 408.4h6.0v6.0h-6.0zM363.6 404.2h6.0v6.0h-6.0zM367.3 402.8h6.0v6.0h-6.0zM370.6 398.3h6.0v6.0h-6.0zM374.1 395.5h6.0v6.0h-6.0zM377.4 394.1h6.0v6.0h-6.0zM380.9 392.1h6.0v6.0h-6.0zM384.6 389.1h6.0v6.0h-6.0zM388.2 387.6h6.0v6.0h-6.0zM391.7 388.2h6.0v6.0h-6.0zM395.1 385.1h6.0v6.0h-6.0zM398.6 385.2h6.0v6.0h-6.0zM402.4 384.0h6.0v6.0h-6.0zM405.8 386.3h6.0v6.0h-6.0zM409.2 386.2h6.0v6.0h-6.0zM412.4 387.5h6.0v6.0h-6.0zM416.1 388.7h6.0v6.0h-6.0zM419.8 388.2h6.0v6.0h-6.0zM423.3 392.5h6.0v6.0h-6.0zM426.3 393.5h6.0v6.0h-6.0zM430.3 396.1h6.0v6.0h-6.0zM433.8 400.0h6.0v6.0h-6.0zM437.3 403.8h6.0v6.0h-6.0zM440.6 410.7h6.0v6.0h-6.0zM443.9 414.1h6.0v6.0h-6.0zM447.6 419.8h6.0v6.0h-6.0zM450.8 424.9h6.0v6.0h-6.0zM454.4 432.9h6.0v6.0h-6.0zM458.2 438.7h6.0v6.0h-6.0zM461.4 444.5h6.0v6.0h-6.0zM464.9 449.9h6.0v6.0h-6.0zM468.7 455.7h6.0v6.0h-6.0zM472.3 462.6h6.0v6.0h-6.0zM475.6 469.8h6.0v6.0h-6.0zM478.9 476.5h6.0v6.0h-6.0zM482.7 481.2h6.0v6.0h-6.0zM486.3 487.3h6.0v6.0h-6.0zM489.9 494.7h6.0v6.0h-6.0zM493.0 501.8h6.0v6.0h-6.0zM496.6 506.8h6.0v6.0h-6.0zM500.2 513.0h6.0v6.0h-6.0zM503.8 520.2h6.0v6.0h-6.0zM507.2 528.9h6.0v6.0h-6.0zM510.7 534.7h6.0v6.0h-6.0zM514.0 539.3h6.0v6.0h-6.0zM517.3 546.0h6.0v6.0h-6.0zM521.2 552.9h6.0v6.0h-6.0zM524.6 560.2h6.0v6.0h-6.0zM527.9 564.2h6.0v6.0h-6.0zM531.7 569.4h6.0v6.0h-6.0zM534.8 575.8h6.0v6.0h-6.0zM538.4 581.2h6.0v6.0h-6.0zM541.9 587.0h6.0v6.0h-6.0zM545.7 591.0h6.0v6.0h-6.0zM549.2 596.8h6.0v6.0h-6.0zM552.4 603.0h6.0v6.0h-6.0zM555.9 605.6h6.0v6.0h-6.0zM559.4 611.6h6.0v6.0h-6.0zM563.3 616.7h6.0v6.0h-6.0zM566.5 619.8h6.0v6.0h-6.0zM569.8 625.3h6.0v6.0h-6.0zM573.6 628.8h6.0v6.0h-6.0zM577.2 633.2h6.0v6.0h-6.0zM580.9 638.0h6.0v6.0h-6.0zM583.9 642.3h6.0v6.0h-6.0zM587.3 645.0h6.0v6.0h-6.0zM591.0 647.6h6.0v6.0h-6.0zM594.3 652.4h6.0v6.0h-6.0zM597.8 654.8h6.0v6.0h-6.0zM601.9 656.5h6.0v6.0h-6.0zM604.9 660.4h6.0v6.0h-6.0zM608.6 663.0h6.0v6.0h-6.0zM612.3 664.1h6.0v6.0h-6.0zM615.5 666.7h6.0v6.0h-6.0zM618.8 670.4h6.0v6.0h-6.0zM622.8 671.9h6.0v6.0h-6.0zM625.8 674.1h6.0v6.0h-6.0zM629.7 674.8h6.0v6.0h-6.0zM633.2 676.4h6.0v6.0h-6.0zM636.4 677.0h6.0v6.0h-6.0zM639.9 678.3h6.0v6.0h-6.0zM643.5 681.6h6.0v6.0h-6.0zM647.2 683.2h6.0v6.0h-6.0zM650.7 682.8h6.0v6.0h-6.0zM654.1 684.5h6.0v6.0h-6.0zM657.8 685.9h6.0v6.0h-6.0zM661.0 687.4h6.0v6.0h-6.0zM664.9 687.3h6.0v6.0h-6.0zM668.3 687.8h6.0v6.0h-6.0z" fill="rgb(255,0,240)"/>
<path d="M178.7 688.1h6.0v6.0h-6.0zM182.4 685.0h6.0v6.0h-6.0zM185.9 678.2h6.0v6.0h-6.0zM189.5 673.2h6.0v6.0h-6.0zM192.6 669.8h6.0v6.0h-6.0zM196.4 664.3h6.0v6.0h-6.0zM199.9 660.3h6.0v6.0h-6.0zM203.3 655.2h6.0v6.0h-6.0zM206.9 650.5h6.0v6.0h-6.0zM210.3 645.1h6.0v6.0h-6.0zM213.8 638.9h6.0v6.0h-6.0zM217.1 634.6h6.0v6.0h-6.0zM220.5 630.1h6.0v6.0h-6.0zM224.1 622.2h6.0v6.0h-6.0zM227.6 619.2h6.0v6.0h-6.0zM231.2 611.2h6.0v6.0h-6.0zM234.5 605.0h6.0v6.0h-6.0zM238.4 600.8h6.0v6.0h-6.0zM241.9 595.1h6.0v6.0h-6.0zM245.0 588.7h6.0v6.0h-6.0zM248.7 583.3h6.0v6.0h-6.0zM252.5 577.4h6.0v6.0h-6.0zM255.5 571.4h6.0v6.0h-6.0zM259.5 565.6h6.0v6.0h-6.0zM262.6 557.6h6.0v6.0h-6.0zM266.1 551.0h6.0v6.0h-6.0zM270.0 546.9h6.0v6.0h-6.0zM273.4 540.5h6.0v6.0h-6.0zM276.9 532.1h6.0v6.0h-6.0zM280.1 524.5h6.0v6.0h-6.0zM284.0 517.6h6.0v6.0h-6.0zM287.2 510.8h6.0v6.0h-6.0zM290.5 503.2h6.0v6.0h-6.0zM294.2 497.5h6.0v6.0h-6.0zM297.7 489.5h6.0v6.0h-6.0zM301.6 483.3h6.0v6.0h-6.0zM305.0 477.4h6.0v6.0h-6.0zM308.0 471.2h6.0v6.0h-6.0zM311.8 466.8h6.0v6.0h-6.0zM315.2 461.4h6.0v6.0h-6.0zM318.8 455.2h6.0v6.0h-6.0zM322.5 450.6h6.0v6.0h-6.0zM326.0 446.8h6.0v6.0h-6.0zM329.0 442.4h6.0v6.0h-6.0zM333.0 440.0h6.0v6.0h-6.0zM336.0 434.0h6.0v6.0h-6.0zM339.8 430.3h6.0v6.0h-6.0zM343.1 424.9h6.0v6.0h-6.0zM346.7 421.3h6.0v6.0h-6.0zM350.2 417.4h6.0v6.0h-6.0zM353.7 411.1h6.0v6.0h-6.0zM357.4 407.8h6.0v6.0h-6.0zM360.6 404.5h6.0v6.0h-6.0zM364.0 401.5h6.0v6.0h-6.0zM367.9 398.7h6.0v6.0h-6.0zM371.4 394.9h6.0v6.0h-6.0zM374.7 392.7h6.0v6.0h-6.0zM378.5 389.7h6.0v6.0h-6.0zM382.0 387.6h6.0v6.0h-6.0zM385.1 386.6h6.0v6.0h-6.0zM389.0 385.8h6.0v6.0h-6.0zM392.2 385.8h6.0v6.0h-6.0zM395.6 383.9h6.0v6.0h-6.0zM399.3 384.4h6.0v6.0h-6.0zM403.0 384.2h6.0v6.0h-6.0zM406.2 383.6h6.0v6.0h-6.0zM409.6 385.9h6.0v6.0h-6.0zM413.4 386.8h6.0v6.0h-6.0zM416.6 387.7h6.0v6.0h-6.0zM420.5 390.2h6.0v6.0h-6.0zM423.6 392.4h6.0v6.0h-6.0zM427.5 394.6h6.0v6.0h-6.0zM430.6 397.9h6.0v6.0h-6.0zM434.4 402.8h6.0v6.0h-6.0zM437.6 404.5h6.0v6.0h-6.0zM441.1 409.0h6.0v6.0h-6.0zM444.8 412.8h6.0v6.0h-6.0zM448.2 417.6h6.0v6.0h-6.0zM452.1 424.4h6.0v6.0h-6.0zM455.1 430.8h6.0v6.0h-6.0zM458.6 435.2h6.0v6.0h-6.0zM462.6 442.3h6.0v6.0h-6.0zM465.9 447.3h6.0v6.0h-6.0zM469.1 454.1h6.0v6.0h-6.0zM472.6 459.3h6.0v6.0h-6.0zM476.2 465.3h6.0v6.0h-6.0zM479.7 474.2h6.0v6.0h-6.0zM483.4 480.2h6.0v6.0h-6.0zM486.9 486.7h6.0v6.0h-6.0zM490.1 493.7h6.0v6.0h-6.0zM493.7 500.7h6.0v6.0h-6.0zM497.5 506.7h6.0v6.0h-6.0zM500.8 514.7h6.0v6.0h-6.0zM504.3 520.1h6.0v6.0h-6.0zM507.9 528.8h6.0v6.0h-6.0zM511.5 535.0h6.0v6.0h-6.0zM515.0 541.4h6.0v6.0h-6.0zM518.4 546.9h6.0v6.0h-6.0zM521.7 553.5h6.0v6.0h-6.0zM525.1 558.8h6.0v6.0h-6.0zM529.0 565.4h6.0v6.0h-6.0zM532.4 569.7h6.0v6.0h-6.0zM535.8 575.7h6.0v6.0h-6.0zM539.4 580.9h6.0v6.0h-6.0zM542.9 587.5h6.0v6.0h-6.0zM546.1 591.8h6.0v6.0h-6.0zM550.0 596.0h6.0v6.0h-6.0zM553.3 602.4h6.0v6.0h-6.0zM556.5 605.9h6.0v6.0h-6.0zM560.1 611.1h6.0v6.0h-6.0zM564.1 615.0h6.0v6.0h-6.0zM567.1 619.6h6.0v6.0h-6.0zM570.8 624.3h6.0v6.0h-6.0zM574.3 628.1h6.0v6.0h-6.0zM578.0 631.5h6.0v6.0h-6.0zM581.2 636.3h6.0v6.0h-6.0zM584.6 639.0h6.0v6.0h-6.0zM588.2 642.4h6.0v6.0h-6.0zM591.6 646.1h6.0v6.0h-6.0zM595.2 646.3h6.0v6.0h-6.0zM598.7 649.9h6.0v6.0h-6.0zM602.0 652.4h6.0v6.0h-6.0zM605.8 655.4h6.0v6.0h-6.0zM609.2 656.2h6.0v6.0h-6.0zM612.6 659.5h6.0v6.0h-6.0zM616.6 660.6h6.0v6.0h-6.0zM619.6 662.9h6.0v6.0h-6.0zM623.2 662.6h6.0v6.0h-6.0zM626.6 665.5h6.0v6.0h-6.0zM630.5 666.3h6.0v6.0h-6.0zM633.8 667.2h6.0v6.0h-6.0zM637.1 669.4h6.0v6.0h-6.0zM640.7 669.5h6.0v6.0h-6.0zM644.5 670.9h6.0v6.0h-6.0zM647.8 670.3h6.0v6.0h-6.0zM651.3 670.6h6.0v6.0h-6.0zM655.0 671.9h6.0v6.0h-6.0zM658.5 672.3h6.0v6.0h-6.0zM661.7 672.8h6.0v6.0h-6.0zM665.3 673.0h6.0v6.0h-6.0zM668.5 674.9h6.0v6.0h-6.0z" fill="rgb(0,250,0)"/>
<path d="M174.3 689.6h6.0v6.0h-6.0zM177.8 684.5h6.0v6.0h-6.0zM181.4 679.3h6.0v6.0h-6.0zM185.0 672.8h6.0v6.0h-6.0zM188.7 668.5h6.0v6.0h-6.0zM191.6 662.7h6.0v6.0h-6.0zM195.6 656.7h6.0v6.0h-6.0zM198.7 651.1h6.0v6.0h-6.0zM202.5 643.0h6.0v6.0h-6.0zM205.6 639.9h6.0v6.0h-6.0zM209.5 632.4h6.0v6.0h-6.0zM212.7 626.5h6.0v6.0h-6.0zM216.2 622.7h6.0v6.0h-6.0zM219.8 615.3h6.0v6.0h-6.0zM223.6 611.4h6.0v6.0h-6.0zM226.7 605.9h6.0v6.0h-6.0zM230.5 599.7h6.0v6.0h-6.0zM234.0 594.1h6.0v6.0h-6.0zM237.6 587.8h6.0v6.0h-6.0zM240.7 581.2h6.0v6.0h-6.0zM244.4 575.1h6.0v6.0h-6.0zM247.9 569.2h6.0v6.0h-6.0zM251.4 561.3h6.0v6.0h-6.0zM254.7 554.9h6.0v6.0h-6.0zM258.4 548.4h6.0v6.0h-6.0zM261.9 542.3h6.0v6.0h-6.0zM265.4 536.7h6.0v6.0h-6.0zM268.9 531.3h6.0v6.0h-6.0zM272.1 525.1h6.0v6.0h-6.0zM275.9 518.0h6.0v6.0h-6.0zM279.5 511.7h6.0v6.0h-6.0zM282.8 502.8h6.0v6.0h-6.0zM286.7 494.2h6.0v6.0h-6.0zM290.0 488.2h6.0v6.0h-6.0zM293.1 480.8h6.0v6.0h-6.0zM297.0 474.6h6.0v6.0h-6.0zM300.3 468.4h6.0v6.0h-6.0zM303.9 461.4h6.0v6.0h-6.0zM307.6 455.0h6.0v6.0h-6.0zM311.0 451.8h6.0v6.0h-6.0zM314.3 447.9h6.0v6.0h-6.0zM317.8 442.5h6.0v6.0h-6.0zM321.4 439.3h6.0v6.0h-6.0zM324.7 434.2h6.0v6.0h-6.0zM328.4 430.2h6.0v6.0h-6.0zM332.1 425.0h6.0v6.0h-6.0zM335.6 420.8h6.0v6.0h-6.0zM338.9 415.7h6.0v6.0h-6.0zM342.4 413.1h6.0v6.0h-6.0zM346.0 408.3h6.0v6.0h-6.0zM349.3 403.0h6.0v6.0h-6.0zM352.8 400.1h6.0v6.0h-6.0zM356.5 397.3h6.0v6.0h-6.0zM359.6 394.1h6.0v6.0h-6.0zM363.6 391.0h6.0v6.0h-6.0zM366.6 387.9h6.0v6.0h-6.0zM370.1 385.6h6.0v6.0h-6.0zM374.2 385.3h6.0v6.0h-6.0zM377.5 384.8h6.0v6.0h-6.0zM381.1 383.5h6.0v6.0h-6.0zM384.5 383.1h6.0v6.0h-6.0zM388.0 382.8h6.0v6.0h-6.0zM391.5 381.8h6.0v6.0h-6.0zM395.0 383.0h6.0v6.0h-6.0zM398.6 383.0h6.0v6.0h-6.0zM401.7 384.4h6.0v6.0h-6.0zM405.6 388.8h6.0v6.0h-6.0zM409.0 389.5h6.0v6.0h-6.0zM412.6 393.3h6.0v6.0h-6.0zM415.9 394.8h6.0v6.0h-6.0zM419.3 398.5h6.0v6.0h-6.0zM422.8 402.1h6.0v6.0h-6.0zM426.5 407.5h6.0v6.0h-6.0zM429.6 410.8h6.0v6.0h-6.0zM433.1 414.0h6.0v6.0h-6.0zM437.1 419.9h6.0v6.0h-6.0zM440.7 424.3h6.0v6.0h-6.0zM443.6 429.2h6.0v6.0h-6.0zM447.5 436.3h6.0v6.0h-6.0zM451.2 441.2h6.0v6.0h-6.0zM454.3 446.7h6.0v6.0h-6.0zM458.0 453.4h6.0v6.0h-6.0zM461.2 459.1h6.0v6.0h-6.0zM464.6 467.3h6.0v6.0h-6.0zM468.2 474.2h6.0v6.0h-6.0zM471.7 480.0h6.0v6.0h-6.0zM475.2 483.6h6.0v6.0h-6.0zM479.0 490.0h6.0v6.0h-6.0zM482.5 495.4h6.0v6.0h-6.0zM485.6 502.8h6.0v6.0h-6.0zM489.5 509.1h6.0v6.0h-6.0zM493.0 513.3h6.0v6.0h-6.0zM496.5 521.5h6.0v6.0h-6.0zM499.9 528.2h6.0v6.0h-6.0zM503.3 534.3h6.0v6.0h-6.0zM507.0 537.6h6.0v6.0h-6.0zM510.1 545.5h6.0v6.0h-6.0zM514.1 550.1h6.0v6.0h-6.0zM517.3 558.1h6.0v6.0h-6.0zM520.7 564.3h6.0v6.0h-6.0zM524.4 567.4h6.0v6.0h-6.0zM527.8 573.9h6.0v6.0h-6.0zM531.4 579.0h6.0v6.0h-6.0zM534.7 583.9h6.0v6.0h-6.0zM538.3 587.9h6.0v6.0h-6.0zM542.0 591.4h6.0v6.0h-6.0zM545.3 596.5h6.0v6.0h-6.0zM549.2 600.3h6.0v6.0h-6.0zM552.4 602.7h6.0v6.0h-6.0zM555.6 608.3h6.0v6.0h-6.0zM559.5 611.4h6.0v6.0h-6.0zM562.8 614.4h6.0v6.0h-6.0zM566.7 618.5h6.0v6.0h-6.0zM570.0 620.4h6.0v6.0h-6.0zM573.4 625.3h6.0v6.0h-6.0zM576.8 627.8h6.0v6.0h-6.0zM580.5 631.4h6.0v6.0h-6.0zM584.1 632.5h6.0v6.0h-6.0zM587.1 635.2h6.0v6.0h-6.0zM590.9 638.7h6.0v6.0h-6.0zM594.6 642.0h6.0v6.0h-6.0zM597.6 644.1h6.0v6.0h-6.0zM601.6 646.4h6.0v6.0h-6.0zM604.9 646.8h6.0v6.0h-6.0zM608.6 650.2h6.0v6.0h-6.0zM612.0 652.2h6.0v6.0h-6.0zM615.3 651.5h6.0v6.0h-6.0zM618.9 655.0h6.0v6.0h-6.0zM622.2 656.2h6.0v6.0h-6.0zM626.2 656.0h6.0v6.0h-6.0zM629.5 658.4h6.0v6.0h-6.0zM632.9 658.2h6.0v6.0h-6.0zM636.3 660.7h6.0v6.0h-6.0zM640.1 660.9h6.0v6.0h-6.0zM643.2 662.8h6.0v6.0h-6.0zM647.1 662.0h6.0v6.0h-6.0zM650.4 664.6h6.0v6.0h-6.0zM654.1 664.2h6.0v6.0h-6.0zM657.4 664.8h6.0v6.0h-6.0zM660.7 664.0h6.0v6.0h-6.0zM664.2 665.6h6.0v6.0h-6.0zM667.8 665.5h6.0v6.0h-6.0zM671.3 665.5h6.0v6.0h-6.0z" fill="rgb(255,250,0)"/>
<path d="M165.4 689.0h6.0v6.0h-6.0zM169.4 684.0h6.0v6.0h-6.0zM172.4 678.7h6.0v6.0h-6.0zM176.3 671.4h6.0v6.0h-6.0zM179.7 666.2h6.0v6.0h-6.0zM183.1 659.7h6.0v6.0h-6.0zM186.3 657.1h6.0v6.0h-6.0zM190.3 650.5h6.0v6.0h-6.0zM193.6 644.6h6.0v6.0h-6.0zM197.3 639.7h6.0v6.0h-6.0zM200.9 635.0h6.0v6.0h-6.0zM204.3 629.8h6.0v6.0h-6.0zM207.5 621.3h6.0v6.0h-6.0zM210.9 615.9h6.0v6.0h-6.0zM214.4 609.7h6.0v6.0h-6.0zM218.1 606.1h6.0v6.0h-6.0zM221.6 600.2h6.0v6.0h-6.0zM225.3 591.0h6.0v6.0h-6.0zM228.7 584.6h6.0v6.0h-6.0zM231.9 578.4h6.0v6.0h-6.0zM235.5 570.0h6.0v6.0h-6.0zM239.2 564.0h6.0v6.0h-6.0zM242.7 555.5h6.0v6.0h-6.0zM246.1 548.1h6.0v6.0h-6.0zM249.9 543.8h6.0v6.0h-6.0zM252.9 534.6h6.0v6.0h-6.0zM256.5 529.1h6.0v6.0h-6.0zM260.3 524.2h6.0v6.0h-6.0zM263.8 515.4h6.0v6.0h-6.0zM267.3 511.0h6.0v6.0h-6.0zM270.7 505.8h6.0v6.0h-6.0zM273.8 497.9h6.0v6.0h-6.0zM277.8 493.7h6.0v6.0h-6.0zM281.2 483.8h6.0v6.0h-6.0zM284.7 477.7h6.0v6.0h-6.0zM287.9 469.8h6.0v6.0h-6.0zM291.5 462.0h6.0v6.0h-6.0zM295.1 454.3h6.0v6.0h-6.0zM298.4 447.9h6.0v6.0h-6.0zM302.2 442.2h6.0v6.0h-6.0zM305.7 437.4h6.0v6.0h-6.0zM308.8 434.1h6.0v6.0h-6.0zM312.4 429.2h6.0v6.0h-6.0zM316.3 424.6h6.0v6.0h-6.0zM319.4 419.0h6.0v6.0h-6.0zM322.9 416.0h6.0v6.0h-6.0zM326.8 411.0h6.0v6.0h-6.0zM330.1 406.3h6.0v6.0h-6.0zM333.8 402.9h6.0v6.0h-6.0zM337.2 398.4h6.0v6.0h-6.0zM340.4 395.1h6.0v6.0h-6.0zM344.2 393.9h6.0v6.0h-6.0zM347.4 392.5h6.0v6.0h-6.0zM351.0 389.2h6.0v6.0h-6.0zM354.4 387.1h6.0v6.0h-6.0zM358.3 385.9h6.0v6.0h-6.0zM361.4 385.3h6.0v6.0h-6.0zM365.0 385.8h6.0v6.0h-6.0zM368.4 385.8h6.0v6.0h-6.0zM371.8 385.8h6.0v6.0h-6.0zM375.7 384.5h6.0v6.0h-6.0zM379.1 385.9h6.0v6.0h-6.0zM382.5 387.4h6.0v6.0h-6.0zM386.0 392.1h6.0v6.0h-6.0zM389.9 394.7h6.0v6.0h-6.0zM392.9 396.1h6.0v6.0h-6.0zM396.8 399.0h6.0v6.0h-6.0zM400.2 403.6h6.0v6.0h-6.0zM403.9 406.9h6.0v6.0h-6.0zM407.3 412.0h6.0v6.0h-6.0zM410.4 415.1h6.0v6.0h-6.0zM414.3 420.6h6.0v6.0h-6.0zM417.4 424.6h6.0v6.0h-6.0zM421.3 428.7h6.0v6.0h-6.0zM424.6 433.6h6.0v6.0h-6.0zM427.9 440.9h6.0v6.0h-6.0zM431.7 445.1h6.0v6.0h-6.0zM434.8 450.7h6.0v6.0h-6.0zM438.7 457.9h6.0v6.0h-6.0zM442.0 463.3h6.0v6.0h-6.0zM445.7 471.2h6.0v6.0h-6.0zM449.3 477.9h6.0v6.0h-6.0zM452.4 483.6h6.0v6.0h-6.0zM456.2 491.5h6.0v6.0h-6.0zM459.7 497.4h6.0v6.0h-6.0zM463.3 505.0h6.0v6.0h-6.0zM466.8 513.5h6.0v6.0h-6.0zM470.1 518.4h6.0v6.0h-6.0zM473.8 527.0h6.0v6.0h-6.0zM477.3 533.8h6.0v6.0h-6.0zM480.4 542.8h6.0v6.0h-6.0zM484.0 548.1h6.0v6.0h-6.0zM487.5 556.2h6.0v6.0h-6.0zM490.8 562.7h6.0v6.0h-6.0zM494.6 569.1h6.0v6.0h-6.0zM497.9 575.8h6.0v6.0h-6.0zM501.8 582.2h6.0v6.0h-6.0zM505.0 587.6h6.0v6.0h-6.0zM508.5 593.4h6.0v6.0h-6.0zM511.8 599.2h6.0v6.0h-6.0zM515.9 603.5h6.0v6.0h-6.0zM519.1 608.7h6.0v6.0h-6.0zM522.6 612.3h6.0v6.0h-6.0zM526.4 617.8h6.0v6.0h-6.0zM529.4 622.4h6.0v6.0h-6.0zM533.0 629.1h6.0v6.0h-6.0zM536.3 631.7h6.0v6.0h-6.0zM540.2 636.4h6.0v6.0h-6.0zM543.3 641.8h6.0v6.0h-6.0zM547.1 645.7h6.0v6.0h-6.0zM550.7 648.4h6.0v6.0h-6.0zM554.3 653.9h6.0v6.0h-6.0zM557.3 655.8h6.0v6.0h-6.0zM561.1 660.2h6.0v6.0h-6.0zM564.5 662.3h6.0v6.0h-6.0zM568.0 665.5h6.0v6.0h-6.0zM571.7 670.6h6.0v6.0h-6.0zM574.9 672.8h6.0v6.0h-6.0zM578.7 674.5h6.0v6.0h-6.0zM582.3 679.4h6.0v6.0h-6.0zM585.5 680.6h6.0v6.0h-6.0zM589.3 683.3h6.0v6.0h-6.0zM592.5 686.8h6.0v6.0h-6.0z" fill="rgb(150,35,15)"/>
<path d="M116.2 688.3h6.0v6.0h-6.0zM119.3 683.4h6.0v6.0h-6.0zM123.0 680.3h6.0v6.0h-6.0zM126.7 675.2h6.0v6.0h-6.0zM130.2 670.1h6.0v6.0h-6.0zM133.2 664.5h6.0v6.0h-6.0zM137.3 661.1h6.0v6.0h-6.0zM140.3 655.1h6.0v6.0h-6.0zM144.1 650.4h6.0v6.0h-6.0zM147.5 645.0h6.0v6.0h-6.0zM151.0 641.7h6.0v6.0h-6.0zM154.2 636.1h6.0v6.0h-6.0zM158.3 633.3h6.0v6.0h-6.0zM161.8 628.2h6.0v6.0h-6.0zM165.2 624.2h6.0v6.0h-6.0zM168.7 617.1h6.0v6.0h-6.0zM172.1 612.7h6.0v6.0h-6.0zM175.6 607.5h6.0v6.0h-6.0zM179.0 603.9h6.0v6.0h-6.0zM182.6 596.5h6.0v6.0h-6.0zM186.0 591.5h6.0v6.0h-6.0zM189.8 585.5h6.0v6.0h-6.0zM192.9 580.9h6.0v6.0h-6.0zM196.3 574.9h6.0v6.0h-6.0zM200.3 568.4h6.0v6.0h-6.0zM203.4 561.8h6.0v6.0h-6.0zM207.0 554.5h6.0v6.0h-6.0zM210.3 548.4h6.0v6.0h-6.0zM213.9 543.1h6.0v6.0h-6.0zM217.4 536.6h6.0v6.0h-6.0zM220.8 531.1h6.0v6.0h-6.0zM224.7 524.9h6.0v6.0h-6.0zM228.0 518.6h6.0v6.0h-6.0zM231.3 512.6h6.0v6.0h-6.0zM235.0 506.1h6.0v6.0h-6.0zM238.6 499.7h6.0v6.0h-6.0zM241.9 492.4h6.0v6.0h-6.0zM245.3 486.3h6.0v6.0h-6.0zM248.9 479.9h6.0v6.0h-6.0zM252.2 473.2h6.0v6.0h-6.0zM256.2 467.3h6.0v6.0h-6.0zM259.5 462.6h6.0v6.0h-6.0zM262.9 458.8h6.0v6.0h-6.0zM266.4 453.3h6.0v6.0h-6.0zM269.8 446.5h6.0v6.0h-6.0zM273.7 442.4h6.0v6.0h-6.0zM276.7 436.8h6.0v6.0h-6.0zM280.5 432.1h6.0v6.0h-6.0zM283.8 424.7h6.0v6.0h-6.0zM287.8 420.4h6.0v6.0h-6.0zM290.8 413.8h6.0v6.0h-6.0zM294.4 409.7h6.0v6.0h-6.0zM298.1 405.5h6.0v6.0h-6.0zM301.7 400.2h6.0v6.0h-6.0zM305.1 397.1h6.0v6.0h-6.0zM308.7 392.8h6.0v6.0h-6.0zM312.2 390.3h6.0v6.0h-6.0zM315.7 386.0h6.0v6.0h-6.0zM319.2 383.3h6.0v6.0h-6.0zM322.7 382.9h6.0v6.0h-6.0zM326.0 382.2h6.0v6.0h-6.0zM329.5 379.4h6.0v6.0h-6.0zM333.2 379.6h6.0v6.0h-6.0zM336.6 377.6h6.0v6.0h-6.0zM340.0 377.6h6.0v6.0h-6.0zM343.6 377.2h6.0v6.0h-6.0zM346.9 378.5h6.0v6.0h-6.0zM350.4 378.7h6.0v6.0h-6.0zM354.2 381.2h6.0v6.0h-6.0zM357.5 381.3h6.0v6.0h-6.0zM360.8 382.2h6.0v6.0h-6.0zM364.3 384.5h6.0v6.0h-6.0zM368.0 385.0h6.0v6.0h-6.0zM371.8 387.9h6.0v6.0h-6.0zM375.2 392.0h6.0v6.0h-6.0zM378.8 393.2h6.0v6.0h-6.0zM382.0 398.5h6.0v6.0h-6.0zM385.2 399.6h6.0v6.0h-6.0zM389.0 404.5h6.0v6.0h-6.0zM392.8 409.2h6.0v6.0h-6.0zM396.0 414.1h6.0v6.0h-6.0zM399.5 417.3h6.0v6.0h-6.0zM403.1 422.0h6.0v6.0h-6.0zM406.4 428.5h6.0v6.0h-6.0zM409.9 435.7h6.0v6.0h-6.0zM413.6 440.0h6.0v6.0h-6.0zM416.8 444.3h6.0v6.0h-6.0zM420.4 449.4h6.0v6.0h-6.0zM424.0 455.3h6.0v6.0h-6.0zM427.8 459.6h6.0v6.0h-6.0zM431.0 465.6h6.0v6.0h-6.0zM434.8 470.1h6.0v6.0h-6.0zM438.0 476.8h6.0v6.0h-6.0zM441.3 480.9h6.0v6.0h-6.0zM445.3 488.2h6.0v6.0h-6.0zM448.5 492.3h6.0v6.0h-6.0zM452.2 500.0h6.0v6.0h-6.0zM455.7 506.8h6.0v6.0h-6.0zM459.2 510.9h6.0v6.0h-6.0zM462.3 516.2h6.0v6.0h-6.0zM466.0 522.2h6.0v6.0h-6.0zM469.3 526.4h6.0v6.0h-6.0zM473.1 532.7h6.0v6.0h-6.0zM476.4 539.3h6.0v6.0h-6.0zM480.1 542.2h6.0v6.0h-6.0zM483.4 549.9h6.0v6.0h-6.0zM486.9 555.5h6.0v6.0h-6.0zM490.2 560.3h6.0v6.0h-6.0zM494.2 566.8h6.0v6.0h-6.0zM497.6 571.2h6.0v6.0h-6.0zM501.0 577.6h6.0v6.0h-6.0zM504.4 583.1h6.0v6.0h-6.0zM508.0 589.0h6.0v6.0h-6.0zM511.5 592.0h6.0v6.0h-6.0zM514.8 595.6h6.0v6.0h-6.0zM518.7 599.6h6.0v6.0h-6.0zM521.8 603.7h6.0v6.0h-6.0zM525.5 609.1h6.0v6.0h-6.0zM529.1 612.4h6.0v6.0h-6.0zM532.2 613.2h6.0v6.0h-6.0zM536.2 617.0h6.0v6.0h-6.0zM539.6 619.8h6.0v6.0h-6.0zM542.8 622.1h6.0v6.0h-6.0zM546.3 626.2h6.0v6.0h-6.0zM550.0 627.0h6.0v6.0h-6.0zM553.5 629.4h6.0v6.0h-6.0zM556.7 633.1h6.0v6.0h-6.0zM560.5 635.5h6.0v6.0h-6.0zM564.0 636.8h6.0v6.0h-6.0zM567.3 637.5h6.0v6.0h-6.0zM571.3 642.0h6.0v6.0h-6.0zM574.4 644.4h6.0v6.0h-6.0zM578.2 645.0h6.0v6.0h-6.0zM581.6 649.0h6.0v6.0h-6.0zM585.0 651.2h6.0v6.0h-6.0zM588.3 651.9h6.0v6.0h-6.0zM592.1 653.6h6.0v6.0h-6.0zM595.4 657.6h6.0v6.0h-6.0zM599.0 659.6h6.0v6.0h-6.0zM602.3 659.9h6.0v6.0h-6.0zM605.9 661.9h6.0v6.0h-6.0zM609.8 664.1h6.0v6.0h-6.0zM613.0 665.4h6.0v6.0h-6.0zM616.5 667.8h6.0v6.0h-6.0zM619.9 668.6h6.0v6.0h-6.0zM623.3 672.3h6.0v6.0h-6.0zM626.9 672.1h6.0v6.0h-6.0zM630.3 673.6h6.0v6.0h-6.0zM633.8 674.3h6.0v6.0h-6.0zM637.6 676.4h6.0v6.0h-6.0zM640.8 678.6h6.0v6.0h-6.0zM644.3 678.5h6.0v6.0h-6.0zM648.2 679.1h6.0v6.0h-6.0zM651.5 682.1h6.0v6.0h-6.0zM655.2 681.1h6.0v6.0h-6.0zM658.4 683.7h6.0v6.0h-6.0zM661.9 685.2h6.0v6.0h-6.0zM665.3 686.0h6.0v6.0h-6.0zM669.0 684.9h6.0v6.0h-6.0z" fill="rgb(115,35,150)"/>
</g>
<rect x="89.9" y="329.9" width="122.8" height="258.1" fill="#fff" stroke="#000" stroke-width="2.6"/>
<rect x="96.1" y="348.1" width="20.5" height="6.5" fill="rgb(0,0,0)"/>
<text x="119.8" y="360.6" font-size="25.5" font-weight="bold" textLength="82" lengthAdjust="spacingAndGlyphs">n=1.33</text>
<rect x="96.1" y="379.3" width="20.5" height="6.5" fill="rgb(250,0,0)"/>
<text x="119.8" y="391.8" font-size="25.5" font-weight="bold" textLength="82" lengthAdjust="spacingAndGlyphs">n=1.34</text>
<rect x="96.1" y="410.5" width="20.5" height="6.5" fill="rgb(0,0,245)"/>
<text x="119.8" y="423.0" font-size="25.5" font-weight="bold" textLength="82" lengthAdjust="spacingAndGlyphs">n=1.36</text>
<rect x="96.1" y="441.8" width="20.5" height="6.5" fill="rgb(225,75,110)"/>
<text x="119.8" y="454.2" font-size="25.5" font-weight="bold" textLength="82" lengthAdjust="spacingAndGlyphs">n=1.37</text>
<rect x="96.1" y="472.9" width="20.5" height="6.5" fill="rgb(0,245,0)"/>
<text x="119.8" y="485.4" font-size="25.5" font-weight="bold" textLength="82" lengthAdjust="spacingAndGlyphs">n=1.38</text>
<rect x="96.1" y="504.1" width="20.5" height="6.5" fill="rgb(255,250,0)"/>
<text x="119.8" y="516.6" font-size="25.5" font-weight="bold" textLength="82" lengthAdjust="spacingAndGlyphs">n=1.40</text>
<rect x="96.1" y="535.3" width="20.5" height="6.5" fill="rgb(150,40,20)"/>
<text x="119.8" y="547.8" font-size="25.5" font-weight="bold" textLength="82" lengthAdjust="spacingAndGlyphs">n=1.41</text>
<rect x="96.1" y="566.5" width="20.5" height="6.5" fill="rgb(115,35,150)"/>
<text x="119.8" y="579.0" font-size="25.5" font-weight="bold" textLength="82" lengthAdjust="spacingAndGlyphs">n=1.43</text>
<text transform="translate(336 350.8) scale(1 1.08)" x="0" y="0" font-size="27.4" textLength="139" lengthAdjust="spacingAndGlyphs">LSPR Shift</text>
<path d="M336 365.8H489" stroke="#000" stroke-width="3.6"/>
<path d="M324.6 365.8L338 360.3L338 371.3Z" fill="#000"/>
<text x="638" y="352.8" font-size="40" font-weight="bold">c</text>
<rect x="82.7" y="766.2" width="277.1" height="247.8" fill="none" stroke="#222" stroke-width="2.6"/>
<path d="M92.7 767v4M92.7 1013v-4M178.2 767v4M178.2 1013v-4M263.7 767v4M263.7 1013v-4M349.2 767v4M349.2 1013v-4M83 809.5h4M359.5 809.5h-4M83 867.7h4M359.5 867.7h-4M83 925.9h4M359.5 925.9h-4M83 984.1h4M359.5 984.1h-4" stroke="#222" stroke-width="2" fill="none"/>
<text x="76.5" y="816.5" font-size="19.5" text-anchor="end" font-weight="bold">1.82</text>
<text x="76.5" y="874.7" font-size="19.5" text-anchor="end" font-weight="bold">1.8</text>
<text x="76.5" y="932.9" font-size="19.5" text-anchor="end" font-weight="bold">1.78</text>
<text x="76.5" y="991.1" font-size="19.5" text-anchor="end" font-weight="bold">1.76</text>
<text x="92.1" y="1034.4" font-size="19" text-anchor="middle" font-weight="bold">1.32</text>
<text x="178.6" y="1034.4" font-size="19" text-anchor="middle" font-weight="bold">1.36</text>
<text x="263.2" y="1034.4" font-size="19" text-anchor="middle" font-weight="bold">1.4</text>
<text x="349.3" y="1034.4" font-size="19" text-anchor="middle" font-weight="bold">1.44</text>
<text transform="translate(64 1067.3) scale(1 1.17)" x="0" y="0" font-size="26.5" font-weight="bold" textLength="299.5" lengthAdjust="spacingAndGlyphs">Refractive Index (RIU)</text>
<text transform="translate(24.0 1027.6) rotate(-90)" x="0" y="0" font-size="31" font-weight="bold" textLength="257.5" lengthAdjust="spacingAndGlyphs">LSPR Energy (eV)</text>
<rect x="114.5" y="777.9" width="11.5" height="11.5" fill="#333"/>
<rect x="140.1" y="819.8" width="11.5" height="11.5" fill="#333"/>
<rect x="166.7" y="843.9" width="11.5" height="11.5" fill="#333"/>
<rect x="194.7" y="855.9" width="11.5" height="11.5" fill="#333"/>
<rect x="223.8" y="873.4" width="11.5" height="11.5" fill="#333"/>
<rect x="253.6" y="901.6" width="11.5" height="11.5" fill="#333"/>
<rect x="286.1" y="936.1" width="11.5" height="11.5" fill="#333"/>
<rect x="317.4" y="987.2" width="11.5" height="11.5" fill="#333"/>
<path d="M100.9 767.3L351 1014" stroke="#000" stroke-width="3.5"/>
<path d="M207.5 873V917.4H252.5" stroke="#000" stroke-width="3.4" fill="none"/>
<path d="M200.3 897.7H173.3V913" stroke="#000" stroke-width="2.6" fill="none"/>
<path d="M167.9 911.5L179.5 911.5L173.7 922.8Z" fill="#000"/>
<text x="151.5" y="945.2" font-size="25.3" textLength="44.5" lengthAdjust="spacingAndGlyphs">RIS</text>
<text x="111.5" y="976.3" font-size="25" textLength="131.5" lengthAdjust="spacingAndGlyphs">-0.68 eV/RI</text>
<text x="115.5" y="1007.6" font-size="26" textLength="107.5" lengthAdjust="spacingAndGlyphs">R<tspan font-size="17" dy="-7.2">2</tspan><tspan dy="7.2"> = 0.97</tspan></text>
<text x="322" y="804.6" font-size="38" font-weight="bold">d</text>
<rect x="370.9" y="767.5" width="311.3" height="305.5" fill="#101010"/>
<g clip-path="url(#ce)">
<circle cx="495" cy="987" r="9" fill="#fff" opacity="0.070" filter="url(#b8)"/>
<circle cx="620" cy="900" r="14" fill="#fff" opacity="0.035" filter="url(#b8)"/>
<circle cx="600" cy="800" r="10" fill="#fff" opacity="0.030" filter="url(#b8)"/>
<circle cx="480" cy="1050" r="8" fill="#fff" opacity="0.030" filter="url(#b8)"/>
<circle cx="560" cy="1000" r="10" fill="#fff" opacity="0.025" filter="url(#b8)"/>
<circle cx="400" cy="980" r="9" fill="#fff" opacity="0.030" filter="url(#b8)"/>
<circle cx="420" cy="800" r="14" fill="#fff" opacity="0.030" filter="url(#b8)"/>
<polygon points="488,828 549,853 554,931 491,954 448,890" fill="#fff" opacity="0.16" filter="url(#b8)"/>
<linearGradient id="rf" gradientUnits="userSpaceOnUse" x1="514" y1="866" x2="545" y2="842"><stop offset="0" stop-color="#e8e8e8"/><stop offset="0.35" stop-color="#d6d6d6"/><stop offset="1" stop-color="#c4c4c4"/></linearGradient>
<linearGradient id="lf" gradientUnits="userSpaceOnUse" x1="460" y1="880" x2="540" y2="940"><stop offset="0" stop-color="#c8c8c8"/><stop offset="1" stop-color="#c0c0c0"/></linearGradient>
<g filter="url(#bp)">
<polygon points="488.5,831 546,854.5 551,929 491.5,951 451,890" fill="#c6c6c6" stroke="#c6c6c6" stroke-width="6" stroke-linejoin="round"/>
<polygon points="488.5,831 451,890 546,902" fill="#cecece" stroke="#cecece" stroke-width="4" stroke-linejoin="round"/>
<polygon points="451,890 546,902 551,929 491.5,951" fill="url(#lf)" stroke="#c2c2c2" stroke-width="3" stroke-linejoin="round"/>
<polygon points="489,831 546,854.5 551,920 546,902" fill="url(#rf)" stroke="#cacaca" stroke-width="4" stroke-linejoin="round"/>
</g>
</g>
<text x="647.8" y="801.2" font-size="43" font-weight="bold" fill="#fff">e</text>
<text x="551" y="1034.6" font-size="27" font-weight="bold" fill="#fff" textLength="97.5" lengthAdjust="spacingAndGlyphs">200 nm</text>
<rect x="540.5" y="1043.5" width="126" height="12" fill="#fff"/>
</svg></body></html>
